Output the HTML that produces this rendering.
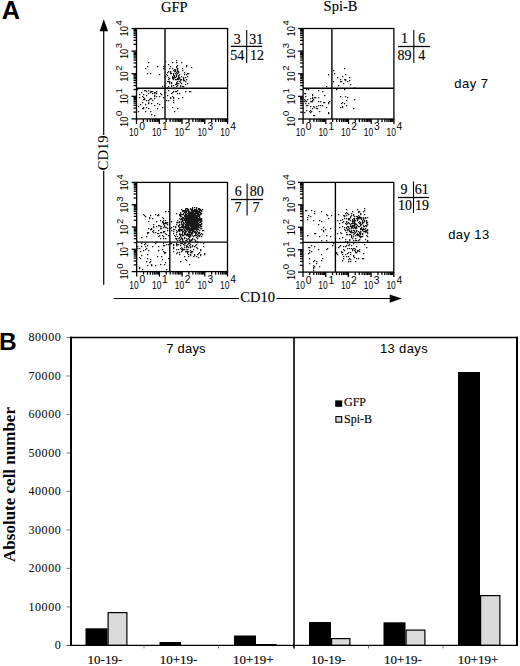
<!DOCTYPE html>
<html><head><meta charset="utf-8"><style>
html,body{margin:0;padding:0;background:#fff;}
svg{display:block;}
</style></head><body>
<svg width="520" height="666" viewBox="0 0 520 666">
<rect width="520" height="666" fill="#fff"/>
<text x="1.80" y="19.30" font-family='"Liberation Sans", sans-serif' font-size="25.3" text-anchor="start" font-weight="bold" >A</text>
<text x="174.25" y="11.50" font-family='"Liberation Serif", serif' font-size="14.5" text-anchor="middle" font-weight="normal" stroke="#000" stroke-width="0.15" >GFP</text>
<text x="340.50" y="11.20" font-family='"Liberation Serif", serif' font-size="14.5" text-anchor="middle" font-weight="normal" stroke="#000" stroke-width="0.15" >Spi-B</text>
<text x="454.30" y="87.50" font-family='"Liberation Sans", sans-serif' font-size="13" text-anchor="start" font-weight="normal" letter-spacing="0.45">day 7</text>
<text x="448.20" y="239.40" font-family='"Liberation Sans", sans-serif' font-size="13" text-anchor="start" font-weight="normal" letter-spacing="0.4">day 13</text>
<line x1="103.70" y1="30.00" x2="103.70" y2="135.00" stroke="#000" stroke-width="1.2"/>
<line x1="103.70" y1="170.80" x2="103.70" y2="284.80" stroke="#000" stroke-width="1.2"/>
<path d="M103.8 19.2 L108.1 31.2 L99.6 31.2 Z" fill="#000"/>
<text transform="translate(108.3,152.85) rotate(-90)" font-family='"Liberation Serif", serif' font-size="14.5" text-anchor="middle">CD19</text>
<line x1="113.80" y1="298.50" x2="239.00" y2="298.50" stroke="#000" stroke-width="1.2"/>
<line x1="276.50" y1="298.50" x2="391.00" y2="298.50" stroke="#000" stroke-width="1.2"/>
<path d="M401.7 298.6 L389.7 294.6 L389.7 302.8 Z" fill="#000"/>
<text x="257.70" y="302.20" font-family='"Liberation Serif", serif' font-size="14.5" text-anchor="middle" font-weight="normal" stroke="#000" stroke-width="0.15" >CD10</text>
<rect x="136.50" y="28.50" width="91.10" height="90.40" fill="none" stroke="#000" stroke-width="1.3"/>
<line x1="165.00" y1="28.50" x2="165.00" y2="118.90" stroke="#000" stroke-width="1.4"/>
<line x1="136.50" y1="88.30" x2="227.60" y2="88.30" stroke="#000" stroke-width="1.4"/>
<line x1="131.50" y1="118.90" x2="136.50" y2="118.90" stroke="#000" stroke-width="1.3"/>
<line x1="136.50" y1="118.90" x2="136.50" y2="123.90" stroke="#000" stroke-width="1.3"/>
<line x1="133.50" y1="112.10" x2="136.50" y2="112.10" stroke="#000" stroke-width="1.3"/>
<line x1="143.36" y1="118.90" x2="143.36" y2="121.90" stroke="#000" stroke-width="1.3"/>
<line x1="133.50" y1="108.12" x2="136.50" y2="108.12" stroke="#000" stroke-width="1.3"/>
<line x1="147.37" y1="118.90" x2="147.37" y2="121.90" stroke="#000" stroke-width="1.3"/>
<line x1="133.50" y1="105.29" x2="136.50" y2="105.29" stroke="#000" stroke-width="1.3"/>
<line x1="150.21" y1="118.90" x2="150.21" y2="121.90" stroke="#000" stroke-width="1.3"/>
<line x1="133.50" y1="103.10" x2="136.50" y2="103.10" stroke="#000" stroke-width="1.3"/>
<line x1="152.42" y1="118.90" x2="152.42" y2="121.90" stroke="#000" stroke-width="1.3"/>
<line x1="133.50" y1="101.31" x2="136.50" y2="101.31" stroke="#000" stroke-width="1.3"/>
<line x1="154.22" y1="118.90" x2="154.22" y2="121.90" stroke="#000" stroke-width="1.3"/>
<line x1="133.50" y1="99.80" x2="136.50" y2="99.80" stroke="#000" stroke-width="1.3"/>
<line x1="155.75" y1="118.90" x2="155.75" y2="121.90" stroke="#000" stroke-width="1.3"/>
<line x1="133.50" y1="98.49" x2="136.50" y2="98.49" stroke="#000" stroke-width="1.3"/>
<line x1="157.07" y1="118.90" x2="157.07" y2="121.90" stroke="#000" stroke-width="1.3"/>
<line x1="133.50" y1="97.33" x2="136.50" y2="97.33" stroke="#000" stroke-width="1.3"/>
<line x1="158.23" y1="118.90" x2="158.23" y2="121.90" stroke="#000" stroke-width="1.3"/>
<line x1="131.50" y1="96.30" x2="136.50" y2="96.30" stroke="#000" stroke-width="1.3"/>
<line x1="159.28" y1="118.90" x2="159.28" y2="123.90" stroke="#000" stroke-width="1.3"/>
<line x1="133.50" y1="89.50" x2="136.50" y2="89.50" stroke="#000" stroke-width="1.3"/>
<line x1="166.13" y1="118.90" x2="166.13" y2="121.90" stroke="#000" stroke-width="1.3"/>
<line x1="133.50" y1="85.52" x2="136.50" y2="85.52" stroke="#000" stroke-width="1.3"/>
<line x1="170.14" y1="118.90" x2="170.14" y2="121.90" stroke="#000" stroke-width="1.3"/>
<line x1="133.50" y1="82.69" x2="136.50" y2="82.69" stroke="#000" stroke-width="1.3"/>
<line x1="172.99" y1="118.90" x2="172.99" y2="121.90" stroke="#000" stroke-width="1.3"/>
<line x1="133.50" y1="80.50" x2="136.50" y2="80.50" stroke="#000" stroke-width="1.3"/>
<line x1="175.19" y1="118.90" x2="175.19" y2="121.90" stroke="#000" stroke-width="1.3"/>
<line x1="133.50" y1="78.71" x2="136.50" y2="78.71" stroke="#000" stroke-width="1.3"/>
<line x1="177.00" y1="118.90" x2="177.00" y2="121.90" stroke="#000" stroke-width="1.3"/>
<line x1="133.50" y1="77.20" x2="136.50" y2="77.20" stroke="#000" stroke-width="1.3"/>
<line x1="178.52" y1="118.90" x2="178.52" y2="121.90" stroke="#000" stroke-width="1.3"/>
<line x1="133.50" y1="75.89" x2="136.50" y2="75.89" stroke="#000" stroke-width="1.3"/>
<line x1="179.84" y1="118.90" x2="179.84" y2="121.90" stroke="#000" stroke-width="1.3"/>
<line x1="133.50" y1="74.73" x2="136.50" y2="74.73" stroke="#000" stroke-width="1.3"/>
<line x1="181.01" y1="118.90" x2="181.01" y2="121.90" stroke="#000" stroke-width="1.3"/>
<line x1="131.50" y1="73.70" x2="136.50" y2="73.70" stroke="#000" stroke-width="1.3"/>
<line x1="182.05" y1="118.90" x2="182.05" y2="123.90" stroke="#000" stroke-width="1.3"/>
<line x1="133.50" y1="66.90" x2="136.50" y2="66.90" stroke="#000" stroke-width="1.3"/>
<line x1="188.91" y1="118.90" x2="188.91" y2="121.90" stroke="#000" stroke-width="1.3"/>
<line x1="133.50" y1="62.92" x2="136.50" y2="62.92" stroke="#000" stroke-width="1.3"/>
<line x1="192.92" y1="118.90" x2="192.92" y2="121.90" stroke="#000" stroke-width="1.3"/>
<line x1="133.50" y1="60.09" x2="136.50" y2="60.09" stroke="#000" stroke-width="1.3"/>
<line x1="195.76" y1="118.90" x2="195.76" y2="121.90" stroke="#000" stroke-width="1.3"/>
<line x1="133.50" y1="57.90" x2="136.50" y2="57.90" stroke="#000" stroke-width="1.3"/>
<line x1="197.97" y1="118.90" x2="197.97" y2="121.90" stroke="#000" stroke-width="1.3"/>
<line x1="133.50" y1="56.11" x2="136.50" y2="56.11" stroke="#000" stroke-width="1.3"/>
<line x1="199.77" y1="118.90" x2="199.77" y2="121.90" stroke="#000" stroke-width="1.3"/>
<line x1="133.50" y1="54.60" x2="136.50" y2="54.60" stroke="#000" stroke-width="1.3"/>
<line x1="201.30" y1="118.90" x2="201.30" y2="121.90" stroke="#000" stroke-width="1.3"/>
<line x1="133.50" y1="53.29" x2="136.50" y2="53.29" stroke="#000" stroke-width="1.3"/>
<line x1="202.62" y1="118.90" x2="202.62" y2="121.90" stroke="#000" stroke-width="1.3"/>
<line x1="133.50" y1="52.13" x2="136.50" y2="52.13" stroke="#000" stroke-width="1.3"/>
<line x1="203.78" y1="118.90" x2="203.78" y2="121.90" stroke="#000" stroke-width="1.3"/>
<line x1="131.50" y1="51.10" x2="136.50" y2="51.10" stroke="#000" stroke-width="1.3"/>
<line x1="204.82" y1="118.90" x2="204.82" y2="123.90" stroke="#000" stroke-width="1.3"/>
<line x1="133.50" y1="44.30" x2="136.50" y2="44.30" stroke="#000" stroke-width="1.3"/>
<line x1="211.68" y1="118.90" x2="211.68" y2="121.90" stroke="#000" stroke-width="1.3"/>
<line x1="133.50" y1="40.32" x2="136.50" y2="40.32" stroke="#000" stroke-width="1.3"/>
<line x1="215.69" y1="118.90" x2="215.69" y2="121.90" stroke="#000" stroke-width="1.3"/>
<line x1="133.50" y1="37.49" x2="136.50" y2="37.49" stroke="#000" stroke-width="1.3"/>
<line x1="218.54" y1="118.90" x2="218.54" y2="121.90" stroke="#000" stroke-width="1.3"/>
<line x1="133.50" y1="35.30" x2="136.50" y2="35.30" stroke="#000" stroke-width="1.3"/>
<line x1="220.74" y1="118.90" x2="220.74" y2="121.90" stroke="#000" stroke-width="1.3"/>
<line x1="133.50" y1="33.51" x2="136.50" y2="33.51" stroke="#000" stroke-width="1.3"/>
<line x1="222.55" y1="118.90" x2="222.55" y2="121.90" stroke="#000" stroke-width="1.3"/>
<line x1="133.50" y1="32.00" x2="136.50" y2="32.00" stroke="#000" stroke-width="1.3"/>
<line x1="224.07" y1="118.90" x2="224.07" y2="121.90" stroke="#000" stroke-width="1.3"/>
<line x1="133.50" y1="30.69" x2="136.50" y2="30.69" stroke="#000" stroke-width="1.3"/>
<line x1="225.39" y1="118.90" x2="225.39" y2="121.90" stroke="#000" stroke-width="1.3"/>
<line x1="133.50" y1="29.53" x2="136.50" y2="29.53" stroke="#000" stroke-width="1.3"/>
<line x1="226.56" y1="118.90" x2="226.56" y2="121.90" stroke="#000" stroke-width="1.3"/>
<line x1="131.50" y1="28.50" x2="136.50" y2="28.50" stroke="#000" stroke-width="1.3"/>
<line x1="227.60" y1="118.90" x2="227.60" y2="123.90" stroke="#000" stroke-width="1.3"/>
<text x="129.10" y="135.90" font-family='"Liberation Sans", sans-serif' font-size="10.5"><tspan textLength="9.4" lengthAdjust="spacingAndGlyphs">10</tspan><tspan dy="-5.6" dx="0.7" font-size="10.3">0</tspan></text>
<text transform="translate(128.00,126.90) rotate(-90)" font-family='"Liberation Sans", sans-serif' font-size="10.5"><tspan textLength="10.3" lengthAdjust="spacingAndGlyphs">10</tspan><tspan dy="-5.6" dx="0.6" font-size="9.5">0</tspan></text>
<text x="151.88" y="135.90" font-family='"Liberation Sans", sans-serif' font-size="10.5"><tspan textLength="9.4" lengthAdjust="spacingAndGlyphs">10</tspan><tspan dy="-5.6" dx="0.7" font-size="10.3">1</tspan></text>
<text transform="translate(128.00,104.30) rotate(-90)" font-family='"Liberation Sans", sans-serif' font-size="10.5"><tspan textLength="10.3" lengthAdjust="spacingAndGlyphs">10</tspan><tspan dy="-5.6" dx="0.6" font-size="9.5">1</tspan></text>
<text x="174.65" y="135.90" font-family='"Liberation Sans", sans-serif' font-size="10.5"><tspan textLength="9.4" lengthAdjust="spacingAndGlyphs">10</tspan><tspan dy="-5.6" dx="0.7" font-size="10.3">2</tspan></text>
<text transform="translate(128.00,81.70) rotate(-90)" font-family='"Liberation Sans", sans-serif' font-size="10.5"><tspan textLength="10.3" lengthAdjust="spacingAndGlyphs">10</tspan><tspan dy="-5.6" dx="0.6" font-size="9.5">2</tspan></text>
<text x="197.42" y="135.90" font-family='"Liberation Sans", sans-serif' font-size="10.5"><tspan textLength="9.4" lengthAdjust="spacingAndGlyphs">10</tspan><tspan dy="-5.6" dx="0.7" font-size="10.3">3</tspan></text>
<text transform="translate(128.00,59.10) rotate(-90)" font-family='"Liberation Sans", sans-serif' font-size="10.5"><tspan textLength="10.3" lengthAdjust="spacingAndGlyphs">10</tspan><tspan dy="-5.6" dx="0.6" font-size="9.5">3</tspan></text>
<text x="220.20" y="135.90" font-family='"Liberation Sans", sans-serif' font-size="10.5"><tspan textLength="9.4" lengthAdjust="spacingAndGlyphs">10</tspan><tspan dy="-5.6" dx="0.7" font-size="10.3">4</tspan></text>
<text transform="translate(128.00,36.50) rotate(-90)" font-family='"Liberation Sans", sans-serif' font-size="10.5"><tspan textLength="10.3" lengthAdjust="spacingAndGlyphs">10</tspan><tspan dy="-5.6" dx="0.6" font-size="9.5">4</tspan></text>
<rect x="303.10" y="28.50" width="90.80" height="90.50" fill="none" stroke="#000" stroke-width="1.3"/>
<line x1="331.90" y1="28.50" x2="331.90" y2="119.00" stroke="#000" stroke-width="1.4"/>
<line x1="303.10" y1="88.30" x2="393.90" y2="88.30" stroke="#000" stroke-width="1.4"/>
<line x1="298.10" y1="119.00" x2="303.10" y2="119.00" stroke="#000" stroke-width="1.3"/>
<line x1="303.10" y1="119.00" x2="303.10" y2="124.00" stroke="#000" stroke-width="1.3"/>
<line x1="300.10" y1="112.19" x2="303.10" y2="112.19" stroke="#000" stroke-width="1.3"/>
<line x1="309.93" y1="119.00" x2="309.93" y2="122.00" stroke="#000" stroke-width="1.3"/>
<line x1="300.10" y1="108.21" x2="303.10" y2="108.21" stroke="#000" stroke-width="1.3"/>
<line x1="313.93" y1="119.00" x2="313.93" y2="122.00" stroke="#000" stroke-width="1.3"/>
<line x1="300.10" y1="105.38" x2="303.10" y2="105.38" stroke="#000" stroke-width="1.3"/>
<line x1="316.77" y1="119.00" x2="316.77" y2="122.00" stroke="#000" stroke-width="1.3"/>
<line x1="300.10" y1="103.19" x2="303.10" y2="103.19" stroke="#000" stroke-width="1.3"/>
<line x1="318.97" y1="119.00" x2="318.97" y2="122.00" stroke="#000" stroke-width="1.3"/>
<line x1="300.10" y1="101.39" x2="303.10" y2="101.39" stroke="#000" stroke-width="1.3"/>
<line x1="320.76" y1="119.00" x2="320.76" y2="122.00" stroke="#000" stroke-width="1.3"/>
<line x1="300.10" y1="99.88" x2="303.10" y2="99.88" stroke="#000" stroke-width="1.3"/>
<line x1="322.28" y1="119.00" x2="322.28" y2="122.00" stroke="#000" stroke-width="1.3"/>
<line x1="300.10" y1="98.57" x2="303.10" y2="98.57" stroke="#000" stroke-width="1.3"/>
<line x1="323.60" y1="119.00" x2="323.60" y2="122.00" stroke="#000" stroke-width="1.3"/>
<line x1="300.10" y1="97.41" x2="303.10" y2="97.41" stroke="#000" stroke-width="1.3"/>
<line x1="324.76" y1="119.00" x2="324.76" y2="122.00" stroke="#000" stroke-width="1.3"/>
<line x1="298.10" y1="96.38" x2="303.10" y2="96.38" stroke="#000" stroke-width="1.3"/>
<line x1="325.80" y1="119.00" x2="325.80" y2="124.00" stroke="#000" stroke-width="1.3"/>
<line x1="300.10" y1="89.56" x2="303.10" y2="89.56" stroke="#000" stroke-width="1.3"/>
<line x1="332.63" y1="119.00" x2="332.63" y2="122.00" stroke="#000" stroke-width="1.3"/>
<line x1="300.10" y1="85.58" x2="303.10" y2="85.58" stroke="#000" stroke-width="1.3"/>
<line x1="336.63" y1="119.00" x2="336.63" y2="122.00" stroke="#000" stroke-width="1.3"/>
<line x1="300.10" y1="82.75" x2="303.10" y2="82.75" stroke="#000" stroke-width="1.3"/>
<line x1="339.47" y1="119.00" x2="339.47" y2="122.00" stroke="#000" stroke-width="1.3"/>
<line x1="300.10" y1="80.56" x2="303.10" y2="80.56" stroke="#000" stroke-width="1.3"/>
<line x1="341.67" y1="119.00" x2="341.67" y2="122.00" stroke="#000" stroke-width="1.3"/>
<line x1="300.10" y1="78.77" x2="303.10" y2="78.77" stroke="#000" stroke-width="1.3"/>
<line x1="343.46" y1="119.00" x2="343.46" y2="122.00" stroke="#000" stroke-width="1.3"/>
<line x1="300.10" y1="77.25" x2="303.10" y2="77.25" stroke="#000" stroke-width="1.3"/>
<line x1="344.98" y1="119.00" x2="344.98" y2="122.00" stroke="#000" stroke-width="1.3"/>
<line x1="300.10" y1="75.94" x2="303.10" y2="75.94" stroke="#000" stroke-width="1.3"/>
<line x1="346.30" y1="119.00" x2="346.30" y2="122.00" stroke="#000" stroke-width="1.3"/>
<line x1="300.10" y1="74.79" x2="303.10" y2="74.79" stroke="#000" stroke-width="1.3"/>
<line x1="347.46" y1="119.00" x2="347.46" y2="122.00" stroke="#000" stroke-width="1.3"/>
<line x1="298.10" y1="73.75" x2="303.10" y2="73.75" stroke="#000" stroke-width="1.3"/>
<line x1="348.50" y1="119.00" x2="348.50" y2="124.00" stroke="#000" stroke-width="1.3"/>
<line x1="300.10" y1="66.94" x2="303.10" y2="66.94" stroke="#000" stroke-width="1.3"/>
<line x1="355.33" y1="119.00" x2="355.33" y2="122.00" stroke="#000" stroke-width="1.3"/>
<line x1="300.10" y1="62.96" x2="303.10" y2="62.96" stroke="#000" stroke-width="1.3"/>
<line x1="359.33" y1="119.00" x2="359.33" y2="122.00" stroke="#000" stroke-width="1.3"/>
<line x1="300.10" y1="60.13" x2="303.10" y2="60.13" stroke="#000" stroke-width="1.3"/>
<line x1="362.17" y1="119.00" x2="362.17" y2="122.00" stroke="#000" stroke-width="1.3"/>
<line x1="300.10" y1="57.94" x2="303.10" y2="57.94" stroke="#000" stroke-width="1.3"/>
<line x1="364.37" y1="119.00" x2="364.37" y2="122.00" stroke="#000" stroke-width="1.3"/>
<line x1="300.10" y1="56.14" x2="303.10" y2="56.14" stroke="#000" stroke-width="1.3"/>
<line x1="366.16" y1="119.00" x2="366.16" y2="122.00" stroke="#000" stroke-width="1.3"/>
<line x1="300.10" y1="54.63" x2="303.10" y2="54.63" stroke="#000" stroke-width="1.3"/>
<line x1="367.68" y1="119.00" x2="367.68" y2="122.00" stroke="#000" stroke-width="1.3"/>
<line x1="300.10" y1="53.32" x2="303.10" y2="53.32" stroke="#000" stroke-width="1.3"/>
<line x1="369.00" y1="119.00" x2="369.00" y2="122.00" stroke="#000" stroke-width="1.3"/>
<line x1="300.10" y1="52.16" x2="303.10" y2="52.16" stroke="#000" stroke-width="1.3"/>
<line x1="370.16" y1="119.00" x2="370.16" y2="122.00" stroke="#000" stroke-width="1.3"/>
<line x1="298.10" y1="51.12" x2="303.10" y2="51.12" stroke="#000" stroke-width="1.3"/>
<line x1="371.20" y1="119.00" x2="371.20" y2="124.00" stroke="#000" stroke-width="1.3"/>
<line x1="300.10" y1="44.31" x2="303.10" y2="44.31" stroke="#000" stroke-width="1.3"/>
<line x1="378.03" y1="119.00" x2="378.03" y2="122.00" stroke="#000" stroke-width="1.3"/>
<line x1="300.10" y1="40.33" x2="303.10" y2="40.33" stroke="#000" stroke-width="1.3"/>
<line x1="382.03" y1="119.00" x2="382.03" y2="122.00" stroke="#000" stroke-width="1.3"/>
<line x1="300.10" y1="37.50" x2="303.10" y2="37.50" stroke="#000" stroke-width="1.3"/>
<line x1="384.87" y1="119.00" x2="384.87" y2="122.00" stroke="#000" stroke-width="1.3"/>
<line x1="300.10" y1="35.31" x2="303.10" y2="35.31" stroke="#000" stroke-width="1.3"/>
<line x1="387.07" y1="119.00" x2="387.07" y2="122.00" stroke="#000" stroke-width="1.3"/>
<line x1="300.10" y1="33.52" x2="303.10" y2="33.52" stroke="#000" stroke-width="1.3"/>
<line x1="388.86" y1="119.00" x2="388.86" y2="122.00" stroke="#000" stroke-width="1.3"/>
<line x1="300.10" y1="32.00" x2="303.10" y2="32.00" stroke="#000" stroke-width="1.3"/>
<line x1="390.38" y1="119.00" x2="390.38" y2="122.00" stroke="#000" stroke-width="1.3"/>
<line x1="300.10" y1="30.69" x2="303.10" y2="30.69" stroke="#000" stroke-width="1.3"/>
<line x1="391.70" y1="119.00" x2="391.70" y2="122.00" stroke="#000" stroke-width="1.3"/>
<line x1="300.10" y1="29.54" x2="303.10" y2="29.54" stroke="#000" stroke-width="1.3"/>
<line x1="392.86" y1="119.00" x2="392.86" y2="122.00" stroke="#000" stroke-width="1.3"/>
<line x1="298.10" y1="28.50" x2="303.10" y2="28.50" stroke="#000" stroke-width="1.3"/>
<line x1="393.90" y1="119.00" x2="393.90" y2="124.00" stroke="#000" stroke-width="1.3"/>
<text x="295.70" y="136.00" font-family='"Liberation Sans", sans-serif' font-size="10.5"><tspan textLength="9.4" lengthAdjust="spacingAndGlyphs">10</tspan><tspan dy="-5.6" dx="0.7" font-size="10.3">0</tspan></text>
<text transform="translate(294.60,127.00) rotate(-90)" font-family='"Liberation Sans", sans-serif' font-size="10.5"><tspan textLength="10.3" lengthAdjust="spacingAndGlyphs">10</tspan><tspan dy="-5.6" dx="0.6" font-size="9.5">0</tspan></text>
<text x="318.40" y="136.00" font-family='"Liberation Sans", sans-serif' font-size="10.5"><tspan textLength="9.4" lengthAdjust="spacingAndGlyphs">10</tspan><tspan dy="-5.6" dx="0.7" font-size="10.3">1</tspan></text>
<text transform="translate(294.60,104.38) rotate(-90)" font-family='"Liberation Sans", sans-serif' font-size="10.5"><tspan textLength="10.3" lengthAdjust="spacingAndGlyphs">10</tspan><tspan dy="-5.6" dx="0.6" font-size="9.5">1</tspan></text>
<text x="341.10" y="136.00" font-family='"Liberation Sans", sans-serif' font-size="10.5"><tspan textLength="9.4" lengthAdjust="spacingAndGlyphs">10</tspan><tspan dy="-5.6" dx="0.7" font-size="10.3">2</tspan></text>
<text transform="translate(294.60,81.75) rotate(-90)" font-family='"Liberation Sans", sans-serif' font-size="10.5"><tspan textLength="10.3" lengthAdjust="spacingAndGlyphs">10</tspan><tspan dy="-5.6" dx="0.6" font-size="9.5">2</tspan></text>
<text x="363.80" y="136.00" font-family='"Liberation Sans", sans-serif' font-size="10.5"><tspan textLength="9.4" lengthAdjust="spacingAndGlyphs">10</tspan><tspan dy="-5.6" dx="0.7" font-size="10.3">3</tspan></text>
<text transform="translate(294.60,59.12) rotate(-90)" font-family='"Liberation Sans", sans-serif' font-size="10.5"><tspan textLength="10.3" lengthAdjust="spacingAndGlyphs">10</tspan><tspan dy="-5.6" dx="0.6" font-size="9.5">3</tspan></text>
<text x="386.50" y="136.00" font-family='"Liberation Sans", sans-serif' font-size="10.5"><tspan textLength="9.4" lengthAdjust="spacingAndGlyphs">10</tspan><tspan dy="-5.6" dx="0.7" font-size="10.3">4</tspan></text>
<text transform="translate(294.60,36.50) rotate(-90)" font-family='"Liberation Sans", sans-serif' font-size="10.5"><tspan textLength="10.3" lengthAdjust="spacingAndGlyphs">10</tspan><tspan dy="-5.6" dx="0.6" font-size="9.5">4</tspan></text>
<rect x="136.70" y="182.40" width="90.80" height="89.20" fill="none" stroke="#000" stroke-width="1.3"/>
<line x1="169.80" y1="182.40" x2="169.80" y2="271.60" stroke="#000" stroke-width="1.4"/>
<line x1="136.70" y1="242.10" x2="227.50" y2="242.10" stroke="#000" stroke-width="1.4"/>
<line x1="131.70" y1="271.60" x2="136.70" y2="271.60" stroke="#000" stroke-width="1.3"/>
<line x1="136.70" y1="271.60" x2="136.70" y2="276.60" stroke="#000" stroke-width="1.3"/>
<line x1="133.70" y1="264.89" x2="136.70" y2="264.89" stroke="#000" stroke-width="1.3"/>
<line x1="143.53" y1="271.60" x2="143.53" y2="274.60" stroke="#000" stroke-width="1.3"/>
<line x1="133.70" y1="260.96" x2="136.70" y2="260.96" stroke="#000" stroke-width="1.3"/>
<line x1="147.53" y1="271.60" x2="147.53" y2="274.60" stroke="#000" stroke-width="1.3"/>
<line x1="133.70" y1="258.17" x2="136.70" y2="258.17" stroke="#000" stroke-width="1.3"/>
<line x1="150.37" y1="271.60" x2="150.37" y2="274.60" stroke="#000" stroke-width="1.3"/>
<line x1="133.70" y1="256.01" x2="136.70" y2="256.01" stroke="#000" stroke-width="1.3"/>
<line x1="152.57" y1="271.60" x2="152.57" y2="274.60" stroke="#000" stroke-width="1.3"/>
<line x1="133.70" y1="254.25" x2="136.70" y2="254.25" stroke="#000" stroke-width="1.3"/>
<line x1="154.36" y1="271.60" x2="154.36" y2="274.60" stroke="#000" stroke-width="1.3"/>
<line x1="133.70" y1="252.75" x2="136.70" y2="252.75" stroke="#000" stroke-width="1.3"/>
<line x1="155.88" y1="271.60" x2="155.88" y2="274.60" stroke="#000" stroke-width="1.3"/>
<line x1="133.70" y1="251.46" x2="136.70" y2="251.46" stroke="#000" stroke-width="1.3"/>
<line x1="157.20" y1="271.60" x2="157.20" y2="274.60" stroke="#000" stroke-width="1.3"/>
<line x1="133.70" y1="250.32" x2="136.70" y2="250.32" stroke="#000" stroke-width="1.3"/>
<line x1="158.36" y1="271.60" x2="158.36" y2="274.60" stroke="#000" stroke-width="1.3"/>
<line x1="131.70" y1="249.30" x2="136.70" y2="249.30" stroke="#000" stroke-width="1.3"/>
<line x1="159.40" y1="271.60" x2="159.40" y2="276.60" stroke="#000" stroke-width="1.3"/>
<line x1="133.70" y1="242.59" x2="136.70" y2="242.59" stroke="#000" stroke-width="1.3"/>
<line x1="166.23" y1="271.60" x2="166.23" y2="274.60" stroke="#000" stroke-width="1.3"/>
<line x1="133.70" y1="238.66" x2="136.70" y2="238.66" stroke="#000" stroke-width="1.3"/>
<line x1="170.23" y1="271.60" x2="170.23" y2="274.60" stroke="#000" stroke-width="1.3"/>
<line x1="133.70" y1="235.87" x2="136.70" y2="235.87" stroke="#000" stroke-width="1.3"/>
<line x1="173.07" y1="271.60" x2="173.07" y2="274.60" stroke="#000" stroke-width="1.3"/>
<line x1="133.70" y1="233.71" x2="136.70" y2="233.71" stroke="#000" stroke-width="1.3"/>
<line x1="175.27" y1="271.60" x2="175.27" y2="274.60" stroke="#000" stroke-width="1.3"/>
<line x1="133.70" y1="231.95" x2="136.70" y2="231.95" stroke="#000" stroke-width="1.3"/>
<line x1="177.06" y1="271.60" x2="177.06" y2="274.60" stroke="#000" stroke-width="1.3"/>
<line x1="133.70" y1="230.45" x2="136.70" y2="230.45" stroke="#000" stroke-width="1.3"/>
<line x1="178.58" y1="271.60" x2="178.58" y2="274.60" stroke="#000" stroke-width="1.3"/>
<line x1="133.70" y1="229.16" x2="136.70" y2="229.16" stroke="#000" stroke-width="1.3"/>
<line x1="179.90" y1="271.60" x2="179.90" y2="274.60" stroke="#000" stroke-width="1.3"/>
<line x1="133.70" y1="228.02" x2="136.70" y2="228.02" stroke="#000" stroke-width="1.3"/>
<line x1="181.06" y1="271.60" x2="181.06" y2="274.60" stroke="#000" stroke-width="1.3"/>
<line x1="131.70" y1="227.00" x2="136.70" y2="227.00" stroke="#000" stroke-width="1.3"/>
<line x1="182.10" y1="271.60" x2="182.10" y2="276.60" stroke="#000" stroke-width="1.3"/>
<line x1="133.70" y1="220.29" x2="136.70" y2="220.29" stroke="#000" stroke-width="1.3"/>
<line x1="188.93" y1="271.60" x2="188.93" y2="274.60" stroke="#000" stroke-width="1.3"/>
<line x1="133.70" y1="216.36" x2="136.70" y2="216.36" stroke="#000" stroke-width="1.3"/>
<line x1="192.93" y1="271.60" x2="192.93" y2="274.60" stroke="#000" stroke-width="1.3"/>
<line x1="133.70" y1="213.57" x2="136.70" y2="213.57" stroke="#000" stroke-width="1.3"/>
<line x1="195.77" y1="271.60" x2="195.77" y2="274.60" stroke="#000" stroke-width="1.3"/>
<line x1="133.70" y1="211.41" x2="136.70" y2="211.41" stroke="#000" stroke-width="1.3"/>
<line x1="197.97" y1="271.60" x2="197.97" y2="274.60" stroke="#000" stroke-width="1.3"/>
<line x1="133.70" y1="209.65" x2="136.70" y2="209.65" stroke="#000" stroke-width="1.3"/>
<line x1="199.76" y1="271.60" x2="199.76" y2="274.60" stroke="#000" stroke-width="1.3"/>
<line x1="133.70" y1="208.15" x2="136.70" y2="208.15" stroke="#000" stroke-width="1.3"/>
<line x1="201.28" y1="271.60" x2="201.28" y2="274.60" stroke="#000" stroke-width="1.3"/>
<line x1="133.70" y1="206.86" x2="136.70" y2="206.86" stroke="#000" stroke-width="1.3"/>
<line x1="202.60" y1="271.60" x2="202.60" y2="274.60" stroke="#000" stroke-width="1.3"/>
<line x1="133.70" y1="205.72" x2="136.70" y2="205.72" stroke="#000" stroke-width="1.3"/>
<line x1="203.76" y1="271.60" x2="203.76" y2="274.60" stroke="#000" stroke-width="1.3"/>
<line x1="131.70" y1="204.70" x2="136.70" y2="204.70" stroke="#000" stroke-width="1.3"/>
<line x1="204.80" y1="271.60" x2="204.80" y2="276.60" stroke="#000" stroke-width="1.3"/>
<line x1="133.70" y1="197.99" x2="136.70" y2="197.99" stroke="#000" stroke-width="1.3"/>
<line x1="211.63" y1="271.60" x2="211.63" y2="274.60" stroke="#000" stroke-width="1.3"/>
<line x1="133.70" y1="194.06" x2="136.70" y2="194.06" stroke="#000" stroke-width="1.3"/>
<line x1="215.63" y1="271.60" x2="215.63" y2="274.60" stroke="#000" stroke-width="1.3"/>
<line x1="133.70" y1="191.27" x2="136.70" y2="191.27" stroke="#000" stroke-width="1.3"/>
<line x1="218.47" y1="271.60" x2="218.47" y2="274.60" stroke="#000" stroke-width="1.3"/>
<line x1="133.70" y1="189.11" x2="136.70" y2="189.11" stroke="#000" stroke-width="1.3"/>
<line x1="220.67" y1="271.60" x2="220.67" y2="274.60" stroke="#000" stroke-width="1.3"/>
<line x1="133.70" y1="187.35" x2="136.70" y2="187.35" stroke="#000" stroke-width="1.3"/>
<line x1="222.46" y1="271.60" x2="222.46" y2="274.60" stroke="#000" stroke-width="1.3"/>
<line x1="133.70" y1="185.85" x2="136.70" y2="185.85" stroke="#000" stroke-width="1.3"/>
<line x1="223.98" y1="271.60" x2="223.98" y2="274.60" stroke="#000" stroke-width="1.3"/>
<line x1="133.70" y1="184.56" x2="136.70" y2="184.56" stroke="#000" stroke-width="1.3"/>
<line x1="225.30" y1="271.60" x2="225.30" y2="274.60" stroke="#000" stroke-width="1.3"/>
<line x1="133.70" y1="183.42" x2="136.70" y2="183.42" stroke="#000" stroke-width="1.3"/>
<line x1="226.46" y1="271.60" x2="226.46" y2="274.60" stroke="#000" stroke-width="1.3"/>
<line x1="131.70" y1="182.40" x2="136.70" y2="182.40" stroke="#000" stroke-width="1.3"/>
<line x1="227.50" y1="271.60" x2="227.50" y2="276.60" stroke="#000" stroke-width="1.3"/>
<text x="129.30" y="288.60" font-family='"Liberation Sans", sans-serif' font-size="10.5"><tspan textLength="9.4" lengthAdjust="spacingAndGlyphs">10</tspan><tspan dy="-5.6" dx="0.7" font-size="10.3">0</tspan></text>
<text transform="translate(128.20,279.60) rotate(-90)" font-family='"Liberation Sans", sans-serif' font-size="10.5"><tspan textLength="10.3" lengthAdjust="spacingAndGlyphs">10</tspan><tspan dy="-5.6" dx="0.6" font-size="9.5">0</tspan></text>
<text x="152.00" y="288.60" font-family='"Liberation Sans", sans-serif' font-size="10.5"><tspan textLength="9.4" lengthAdjust="spacingAndGlyphs">10</tspan><tspan dy="-5.6" dx="0.7" font-size="10.3">1</tspan></text>
<text transform="translate(128.20,257.30) rotate(-90)" font-family='"Liberation Sans", sans-serif' font-size="10.5"><tspan textLength="10.3" lengthAdjust="spacingAndGlyphs">10</tspan><tspan dy="-5.6" dx="0.6" font-size="9.5">1</tspan></text>
<text x="174.70" y="288.60" font-family='"Liberation Sans", sans-serif' font-size="10.5"><tspan textLength="9.4" lengthAdjust="spacingAndGlyphs">10</tspan><tspan dy="-5.6" dx="0.7" font-size="10.3">2</tspan></text>
<text transform="translate(128.20,235.00) rotate(-90)" font-family='"Liberation Sans", sans-serif' font-size="10.5"><tspan textLength="10.3" lengthAdjust="spacingAndGlyphs">10</tspan><tspan dy="-5.6" dx="0.6" font-size="9.5">2</tspan></text>
<text x="197.40" y="288.60" font-family='"Liberation Sans", sans-serif' font-size="10.5"><tspan textLength="9.4" lengthAdjust="spacingAndGlyphs">10</tspan><tspan dy="-5.6" dx="0.7" font-size="10.3">3</tspan></text>
<text transform="translate(128.20,212.70) rotate(-90)" font-family='"Liberation Sans", sans-serif' font-size="10.5"><tspan textLength="10.3" lengthAdjust="spacingAndGlyphs">10</tspan><tspan dy="-5.6" dx="0.6" font-size="9.5">3</tspan></text>
<text x="220.10" y="288.60" font-family='"Liberation Sans", sans-serif' font-size="10.5"><tspan textLength="9.4" lengthAdjust="spacingAndGlyphs">10</tspan><tspan dy="-5.6" dx="0.7" font-size="10.3">4</tspan></text>
<text transform="translate(128.20,190.40) rotate(-90)" font-family='"Liberation Sans", sans-serif' font-size="10.5"><tspan textLength="10.3" lengthAdjust="spacingAndGlyphs">10</tspan><tspan dy="-5.6" dx="0.6" font-size="9.5">4</tspan></text>
<rect x="303.00" y="182.40" width="90.80" height="89.70" fill="none" stroke="#000" stroke-width="1.3"/>
<line x1="335.40" y1="182.40" x2="335.40" y2="272.10" stroke="#000" stroke-width="1.4"/>
<line x1="303.00" y1="242.40" x2="393.80" y2="242.40" stroke="#000" stroke-width="1.4"/>
<line x1="298.00" y1="272.10" x2="303.00" y2="272.10" stroke="#000" stroke-width="1.3"/>
<line x1="303.00" y1="272.10" x2="303.00" y2="277.10" stroke="#000" stroke-width="1.3"/>
<line x1="300.00" y1="265.35" x2="303.00" y2="265.35" stroke="#000" stroke-width="1.3"/>
<line x1="309.83" y1="272.10" x2="309.83" y2="275.10" stroke="#000" stroke-width="1.3"/>
<line x1="300.00" y1="261.40" x2="303.00" y2="261.40" stroke="#000" stroke-width="1.3"/>
<line x1="313.83" y1="272.10" x2="313.83" y2="275.10" stroke="#000" stroke-width="1.3"/>
<line x1="300.00" y1="258.60" x2="303.00" y2="258.60" stroke="#000" stroke-width="1.3"/>
<line x1="316.67" y1="272.10" x2="316.67" y2="275.10" stroke="#000" stroke-width="1.3"/>
<line x1="300.00" y1="256.43" x2="303.00" y2="256.43" stroke="#000" stroke-width="1.3"/>
<line x1="318.87" y1="272.10" x2="318.87" y2="275.10" stroke="#000" stroke-width="1.3"/>
<line x1="300.00" y1="254.65" x2="303.00" y2="254.65" stroke="#000" stroke-width="1.3"/>
<line x1="320.66" y1="272.10" x2="320.66" y2="275.10" stroke="#000" stroke-width="1.3"/>
<line x1="300.00" y1="253.15" x2="303.00" y2="253.15" stroke="#000" stroke-width="1.3"/>
<line x1="322.18" y1="272.10" x2="322.18" y2="275.10" stroke="#000" stroke-width="1.3"/>
<line x1="300.00" y1="251.85" x2="303.00" y2="251.85" stroke="#000" stroke-width="1.3"/>
<line x1="323.50" y1="272.10" x2="323.50" y2="275.10" stroke="#000" stroke-width="1.3"/>
<line x1="300.00" y1="250.70" x2="303.00" y2="250.70" stroke="#000" stroke-width="1.3"/>
<line x1="324.66" y1="272.10" x2="324.66" y2="275.10" stroke="#000" stroke-width="1.3"/>
<line x1="298.00" y1="249.68" x2="303.00" y2="249.68" stroke="#000" stroke-width="1.3"/>
<line x1="325.70" y1="272.10" x2="325.70" y2="277.10" stroke="#000" stroke-width="1.3"/>
<line x1="300.00" y1="242.92" x2="303.00" y2="242.92" stroke="#000" stroke-width="1.3"/>
<line x1="332.53" y1="272.10" x2="332.53" y2="275.10" stroke="#000" stroke-width="1.3"/>
<line x1="300.00" y1="238.98" x2="303.00" y2="238.98" stroke="#000" stroke-width="1.3"/>
<line x1="336.53" y1="272.10" x2="336.53" y2="275.10" stroke="#000" stroke-width="1.3"/>
<line x1="300.00" y1="236.17" x2="303.00" y2="236.17" stroke="#000" stroke-width="1.3"/>
<line x1="339.37" y1="272.10" x2="339.37" y2="275.10" stroke="#000" stroke-width="1.3"/>
<line x1="300.00" y1="234.00" x2="303.00" y2="234.00" stroke="#000" stroke-width="1.3"/>
<line x1="341.57" y1="272.10" x2="341.57" y2="275.10" stroke="#000" stroke-width="1.3"/>
<line x1="300.00" y1="232.22" x2="303.00" y2="232.22" stroke="#000" stroke-width="1.3"/>
<line x1="343.36" y1="272.10" x2="343.36" y2="275.10" stroke="#000" stroke-width="1.3"/>
<line x1="300.00" y1="230.72" x2="303.00" y2="230.72" stroke="#000" stroke-width="1.3"/>
<line x1="344.88" y1="272.10" x2="344.88" y2="275.10" stroke="#000" stroke-width="1.3"/>
<line x1="300.00" y1="229.42" x2="303.00" y2="229.42" stroke="#000" stroke-width="1.3"/>
<line x1="346.20" y1="272.10" x2="346.20" y2="275.10" stroke="#000" stroke-width="1.3"/>
<line x1="300.00" y1="228.28" x2="303.00" y2="228.28" stroke="#000" stroke-width="1.3"/>
<line x1="347.36" y1="272.10" x2="347.36" y2="275.10" stroke="#000" stroke-width="1.3"/>
<line x1="298.00" y1="227.25" x2="303.00" y2="227.25" stroke="#000" stroke-width="1.3"/>
<line x1="348.40" y1="272.10" x2="348.40" y2="277.10" stroke="#000" stroke-width="1.3"/>
<line x1="300.00" y1="220.50" x2="303.00" y2="220.50" stroke="#000" stroke-width="1.3"/>
<line x1="355.23" y1="272.10" x2="355.23" y2="275.10" stroke="#000" stroke-width="1.3"/>
<line x1="300.00" y1="216.55" x2="303.00" y2="216.55" stroke="#000" stroke-width="1.3"/>
<line x1="359.23" y1="272.10" x2="359.23" y2="275.10" stroke="#000" stroke-width="1.3"/>
<line x1="300.00" y1="213.75" x2="303.00" y2="213.75" stroke="#000" stroke-width="1.3"/>
<line x1="362.07" y1="272.10" x2="362.07" y2="275.10" stroke="#000" stroke-width="1.3"/>
<line x1="300.00" y1="211.58" x2="303.00" y2="211.58" stroke="#000" stroke-width="1.3"/>
<line x1="364.27" y1="272.10" x2="364.27" y2="275.10" stroke="#000" stroke-width="1.3"/>
<line x1="300.00" y1="209.80" x2="303.00" y2="209.80" stroke="#000" stroke-width="1.3"/>
<line x1="366.06" y1="272.10" x2="366.06" y2="275.10" stroke="#000" stroke-width="1.3"/>
<line x1="300.00" y1="208.30" x2="303.00" y2="208.30" stroke="#000" stroke-width="1.3"/>
<line x1="367.58" y1="272.10" x2="367.58" y2="275.10" stroke="#000" stroke-width="1.3"/>
<line x1="300.00" y1="207.00" x2="303.00" y2="207.00" stroke="#000" stroke-width="1.3"/>
<line x1="368.90" y1="272.10" x2="368.90" y2="275.10" stroke="#000" stroke-width="1.3"/>
<line x1="300.00" y1="205.85" x2="303.00" y2="205.85" stroke="#000" stroke-width="1.3"/>
<line x1="370.06" y1="272.10" x2="370.06" y2="275.10" stroke="#000" stroke-width="1.3"/>
<line x1="298.00" y1="204.83" x2="303.00" y2="204.83" stroke="#000" stroke-width="1.3"/>
<line x1="371.10" y1="272.10" x2="371.10" y2="277.10" stroke="#000" stroke-width="1.3"/>
<line x1="300.00" y1="198.07" x2="303.00" y2="198.07" stroke="#000" stroke-width="1.3"/>
<line x1="377.93" y1="272.10" x2="377.93" y2="275.10" stroke="#000" stroke-width="1.3"/>
<line x1="300.00" y1="194.13" x2="303.00" y2="194.13" stroke="#000" stroke-width="1.3"/>
<line x1="381.93" y1="272.10" x2="381.93" y2="275.10" stroke="#000" stroke-width="1.3"/>
<line x1="300.00" y1="191.32" x2="303.00" y2="191.32" stroke="#000" stroke-width="1.3"/>
<line x1="384.77" y1="272.10" x2="384.77" y2="275.10" stroke="#000" stroke-width="1.3"/>
<line x1="300.00" y1="189.15" x2="303.00" y2="189.15" stroke="#000" stroke-width="1.3"/>
<line x1="386.97" y1="272.10" x2="386.97" y2="275.10" stroke="#000" stroke-width="1.3"/>
<line x1="300.00" y1="187.37" x2="303.00" y2="187.37" stroke="#000" stroke-width="1.3"/>
<line x1="388.76" y1="272.10" x2="388.76" y2="275.10" stroke="#000" stroke-width="1.3"/>
<line x1="300.00" y1="185.87" x2="303.00" y2="185.87" stroke="#000" stroke-width="1.3"/>
<line x1="390.28" y1="272.10" x2="390.28" y2="275.10" stroke="#000" stroke-width="1.3"/>
<line x1="300.00" y1="184.57" x2="303.00" y2="184.57" stroke="#000" stroke-width="1.3"/>
<line x1="391.60" y1="272.10" x2="391.60" y2="275.10" stroke="#000" stroke-width="1.3"/>
<line x1="300.00" y1="183.43" x2="303.00" y2="183.43" stroke="#000" stroke-width="1.3"/>
<line x1="392.76" y1="272.10" x2="392.76" y2="275.10" stroke="#000" stroke-width="1.3"/>
<line x1="298.00" y1="182.40" x2="303.00" y2="182.40" stroke="#000" stroke-width="1.3"/>
<line x1="393.80" y1="272.10" x2="393.80" y2="277.10" stroke="#000" stroke-width="1.3"/>
<text x="295.60" y="289.10" font-family='"Liberation Sans", sans-serif' font-size="10.5"><tspan textLength="9.4" lengthAdjust="spacingAndGlyphs">10</tspan><tspan dy="-5.6" dx="0.7" font-size="10.3">0</tspan></text>
<text transform="translate(294.50,280.10) rotate(-90)" font-family='"Liberation Sans", sans-serif' font-size="10.5"><tspan textLength="10.3" lengthAdjust="spacingAndGlyphs">10</tspan><tspan dy="-5.6" dx="0.6" font-size="9.5">0</tspan></text>
<text x="318.30" y="289.10" font-family='"Liberation Sans", sans-serif' font-size="10.5"><tspan textLength="9.4" lengthAdjust="spacingAndGlyphs">10</tspan><tspan dy="-5.6" dx="0.7" font-size="10.3">1</tspan></text>
<text transform="translate(294.50,257.68) rotate(-90)" font-family='"Liberation Sans", sans-serif' font-size="10.5"><tspan textLength="10.3" lengthAdjust="spacingAndGlyphs">10</tspan><tspan dy="-5.6" dx="0.6" font-size="9.5">1</tspan></text>
<text x="341.00" y="289.10" font-family='"Liberation Sans", sans-serif' font-size="10.5"><tspan textLength="9.4" lengthAdjust="spacingAndGlyphs">10</tspan><tspan dy="-5.6" dx="0.7" font-size="10.3">2</tspan></text>
<text transform="translate(294.50,235.25) rotate(-90)" font-family='"Liberation Sans", sans-serif' font-size="10.5"><tspan textLength="10.3" lengthAdjust="spacingAndGlyphs">10</tspan><tspan dy="-5.6" dx="0.6" font-size="9.5">2</tspan></text>
<text x="363.70" y="289.10" font-family='"Liberation Sans", sans-serif' font-size="10.5"><tspan textLength="9.4" lengthAdjust="spacingAndGlyphs">10</tspan><tspan dy="-5.6" dx="0.7" font-size="10.3">3</tspan></text>
<text transform="translate(294.50,212.83) rotate(-90)" font-family='"Liberation Sans", sans-serif' font-size="10.5"><tspan textLength="10.3" lengthAdjust="spacingAndGlyphs">10</tspan><tspan dy="-5.6" dx="0.6" font-size="9.5">3</tspan></text>
<text x="386.40" y="289.10" font-family='"Liberation Sans", sans-serif' font-size="10.5"><tspan textLength="9.4" lengthAdjust="spacingAndGlyphs">10</tspan><tspan dy="-5.6" dx="0.7" font-size="10.3">4</tspan></text>
<text transform="translate(294.50,190.40) rotate(-90)" font-family='"Liberation Sans", sans-serif' font-size="10.5"><tspan textLength="10.3" lengthAdjust="spacingAndGlyphs">10</tspan><tspan dy="-5.6" dx="0.6" font-size="9.5">4</tspan></text>
<path d="M177 81h1.3v1.3h-1.3zM175 71h1.3v1.3h-1.3zM173 70h1.3v1.3h-1.3zM177 90h1.3v1.3h-1.3zM173 73h1.3v1.3h-1.3zM180 82h1.3v1.3h-1.3zM177 71h1.3v1.3h-1.3zM176 84h1.3v1.3h-1.3zM167 75h1.3v1.3h-1.3zM163 68h1.3v1.3h-1.3zM164 77h1.3v1.3h-1.3zM168 81h1.3v1.3h-1.3zM178 77h1.3v1.3h-1.3zM159 74h1.3v1.3h-1.3zM176 79h1.3v1.3h-1.3zM166 74h1.3v1.3h-1.3zM170 72h1.3v1.3h-1.3zM184 72h1.3v1.3h-1.3zM176 86h1.3v1.3h-1.3zM172 78h1.3v1.3h-1.3zM177 79h1.3v1.3h-1.3zM168 79h1.3v1.3h-1.3zM186 65h1.3v1.3h-1.3zM183 80h1.3v1.3h-1.3zM172 96h1.3v1.3h-1.3zM182 68h1.3v1.3h-1.3zM177 83h1.3v1.3h-1.3zM175 84h1.3v1.3h-1.3zM187 73h1.3v1.3h-1.3zM178 75h1.3v1.3h-1.3zM177 68h1.3v1.3h-1.3zM172 77h1.3v1.3h-1.3zM183 88h1.3v1.3h-1.3zM167 72h1.3v1.3h-1.3zM181 62h1.3v1.3h-1.3zM173 78h1.3v1.3h-1.3zM185 84h1.3v1.3h-1.3zM174 75h1.3v1.3h-1.3zM175 91h1.3v1.3h-1.3zM174 76h1.3v1.3h-1.3zM179 77h1.3v1.3h-1.3zM175 69h1.3v1.3h-1.3zM176 75h1.3v1.3h-1.3zM174 87h1.3v1.3h-1.3zM176 83h1.3v1.3h-1.3zM167 81h1.3v1.3h-1.3zM165 61h1.3v1.3h-1.3zM174 71h1.3v1.3h-1.3zM178 98h1.3v1.3h-1.3zM171 73h1.3v1.3h-1.3zM178 83h1.3v1.3h-1.3zM175 77h1.3v1.3h-1.3zM181 83h1.3v1.3h-1.3zM169 78h1.3v1.3h-1.3zM177 70h1.3v1.3h-1.3zM178 71h1.3v1.3h-1.3zM177 73h1.3v1.3h-1.3zM176 62h1.3v1.3h-1.3zM169 82h1.3v1.3h-1.3zM162 86h1.3v1.3h-1.3zM164 85h1.3v1.3h-1.3zM171 85h1.3v1.3h-1.3zM177 65h1.3v1.3h-1.3zM185 91h1.3v1.3h-1.3zM176 76h1.3v1.3h-1.3zM175 70h1.3v1.3h-1.3zM184 74h1.3v1.3h-1.3zM176 72h1.3v1.3h-1.3zM172 68h1.3v1.3h-1.3zM185 77h1.3v1.3h-1.3zM183 79h1.3v1.3h-1.3zM172 76h1.3v1.3h-1.3zM173 79h1.3v1.3h-1.3zM188 73h1.3v1.3h-1.3zM169 81h1.3v1.3h-1.3zM186 66h1.3v1.3h-1.3zM175 73h1.3v1.3h-1.3zM171 82h1.3v1.3h-1.3zM173 77h1.3v1.3h-1.3zM169 68h1.3v1.3h-1.3zM186 74h1.3v1.3h-1.3zM179 78h1.3v1.3h-1.3zM173 74h1.3v1.3h-1.3zM181 76h1.3v1.3h-1.3zM175 79h1.3v1.3h-1.3zM179 74h1.3v1.3h-1.3zM167 87h1.3v1.3h-1.3zM183 77h1.3v1.3h-1.3zM180 85h1.3v1.3h-1.3zM182 86h1.3v1.3h-1.3zM173 91h1.3v1.3h-1.3zM168 86h1.3v1.3h-1.3zM180 86h1.3v1.3h-1.3zM190 91h1.3v1.3h-1.3zM168 64h1.3v1.3h-1.3zM182 70h1.3v1.3h-1.3zM178 79h1.3v1.3h-1.3zM170 66h1.3v1.3h-1.3zM165 83h1.3v1.3h-1.3zM176 82h1.3v1.3h-1.3zM170 73h1.3v1.3h-1.3zM170 71h1.3v1.3h-1.3zM178 72h1.3v1.3h-1.3zM179 81h1.3v1.3h-1.3zM191 67h1.3v1.3h-1.3zM183 78h1.3v1.3h-1.3zM176 66h1.3v1.3h-1.3zM173 85h1.3v1.3h-1.3zM174 88h1.3v1.3h-1.3zM176 60h1.3v1.3h-1.3zM172 62h1.3v1.3h-1.3zM186 79h1.3v1.3h-1.3zM168 71h1.3v1.3h-1.3zM184 80h1.3v1.3h-1.3zM177 78h1.3v1.3h-1.3zM177 85h1.3v1.3h-1.3zM180 80h1.3v1.3h-1.3zM169 83h1.3v1.3h-1.3zM172 88h1.3v1.3h-1.3zM168 77h1.3v1.3h-1.3zM176 67h1.3v1.3h-1.3zM189 91h1.3v1.3h-1.3zM178 78h1.3v1.3h-1.3zM177 69h1.3v1.3h-1.3zM185 81h1.3v1.3h-1.3zM176 91h1.3v1.3h-1.3zM173 75h1.3v1.3h-1.3zM164 92h1.3v1.3h-1.3zM183 86h1.3v1.3h-1.3zM181 79h1.3v1.3h-1.3zM178 76h1.3v1.3h-1.3zM187 83h1.3v1.3h-1.3zM176 74h1.3v1.3h-1.3zM172 92h1.3v1.3h-1.3zM180 79h1.3v1.3h-1.3zM174 69h1.3v1.3h-1.3zM174 77h1.3v1.3h-1.3zM165 76h1.3v1.3h-1.3zM171 86h1.3v1.3h-1.3zM171 83h1.3v1.3h-1.3zM187 76h1.3v1.3h-1.3zM168 100h1.3v1.3h-1.3zM171 93h1.3v1.3h-1.3zM174 111h1.3v1.3h-1.3zM170 97h1.3v1.3h-1.3zM166 100h1.3v1.3h-1.3zM165 92h1.3v1.3h-1.3zM179 93h1.3v1.3h-1.3zM177 108h1.3v1.3h-1.3zM173 102h1.3v1.3h-1.3zM182 97h1.3v1.3h-1.3zM168 90h1.3v1.3h-1.3zM172 107h1.3v1.3h-1.3zM177 93h1.3v1.3h-1.3zM167 95h1.3v1.3h-1.3zM173 97h1.3v1.3h-1.3zM173 100h1.3v1.3h-1.3zM170 98h1.3v1.3h-1.3zM173 98h1.3v1.3h-1.3zM151 114h1.3v1.3h-1.3zM152 100h1.3v1.3h-1.3zM154 105h1.3v1.3h-1.3zM143 94h1.3v1.3h-1.3zM148 93h1.3v1.3h-1.3zM145 90h1.3v1.3h-1.3zM148 90h1.3v1.3h-1.3zM157 108h1.3v1.3h-1.3zM156 96h1.3v1.3h-1.3zM151 98h1.3v1.3h-1.3zM143 97h1.3v1.3h-1.3zM154 98h1.3v1.3h-1.3zM148 108h1.3v1.3h-1.3zM148 103h1.3v1.3h-1.3zM143 108h1.3v1.3h-1.3zM138 106h1.3v1.3h-1.3zM159 104h1.3v1.3h-1.3zM159 96h1.3v1.3h-1.3zM144 90h1.3v1.3h-1.3zM161 94h1.3v1.3h-1.3zM143 107h1.3v1.3h-1.3zM150 91h1.3v1.3h-1.3zM142 96h1.3v1.3h-1.3zM146 95h1.3v1.3h-1.3zM139 97h1.3v1.3h-1.3zM137 89h1.3v1.3h-1.3zM146 107h1.3v1.3h-1.3zM141 92h1.3v1.3h-1.3zM154 95h1.3v1.3h-1.3zM160 93h1.3v1.3h-1.3zM150 98h1.3v1.3h-1.3zM140 104h1.3v1.3h-1.3zM145 104h1.3v1.3h-1.3zM146 91h1.3v1.3h-1.3zM146 100h1.3v1.3h-1.3zM155 92h1.3v1.3h-1.3zM152 91h1.3v1.3h-1.3zM139 94h1.3v1.3h-1.3zM152 93h1.3v1.3h-1.3zM150 92h1.3v1.3h-1.3zM163 97h1.3v1.3h-1.3zM149 99h1.3v1.3h-1.3zM148 100h1.3v1.3h-1.3zM154 92h1.3v1.3h-1.3zM151 91h1.3v1.3h-1.3zM156 91h1.3v1.3h-1.3zM138 111h1.3v1.3h-1.3zM154 96h1.3v1.3h-1.3zM143 99h1.3v1.3h-1.3zM154 93h1.3v1.3h-1.3zM144 98h1.3v1.3h-1.3zM150 111h1.3v1.3h-1.3zM151 103h1.3v1.3h-1.3zM154 115h1.3v1.3h-1.3zM142 108h1.3v1.3h-1.3zM162 107h1.3v1.3h-1.3zM145 111h1.3v1.3h-1.3zM144 99h1.3v1.3h-1.3zM148 102h1.3v1.3h-1.3zM157 103h1.3v1.3h-1.3zM156 93h1.3v1.3h-1.3zM142 102h1.3v1.3h-1.3zM157 66h1.3v1.3h-1.3zM147 66h1.3v1.3h-1.3zM147 73h1.3v1.3h-1.3zM148 62h1.3v1.3h-1.3zM150 73h1.3v1.3h-1.3zM163 66h1.3v1.3h-1.3zM145 68h1.3v1.3h-1.3z" fill="#1a1a1a"/>
<path d="M340 81h1.3v1.3h-1.3zM344 79h1.3v1.3h-1.3zM345 74h1.3v1.3h-1.3zM341 81h1.3v1.3h-1.3zM345 79h1.3v1.3h-1.3zM333 81h1.3v1.3h-1.3zM350 84h1.3v1.3h-1.3zM344 68h1.3v1.3h-1.3zM349 77h1.3v1.3h-1.3zM333 70h1.3v1.3h-1.3zM338 85h1.3v1.3h-1.3zM340 79h1.3v1.3h-1.3zM354 87h1.3v1.3h-1.3zM342 76h1.3v1.3h-1.3zM334 73h1.3v1.3h-1.3zM345 80h1.3v1.3h-1.3zM343 83h1.3v1.3h-1.3zM337 77h1.3v1.3h-1.3zM347 81h1.3v1.3h-1.3zM349 80h1.3v1.3h-1.3zM341 103h1.3v1.3h-1.3zM336 89h1.3v1.3h-1.3zM346 100h1.3v1.3h-1.3zM344 89h1.3v1.3h-1.3zM340 96h1.3v1.3h-1.3zM340 107h1.3v1.3h-1.3zM345 96h1.3v1.3h-1.3zM342 106h1.3v1.3h-1.3zM346 105h1.3v1.3h-1.3zM353 108h1.3v1.3h-1.3zM344 103h1.3v1.3h-1.3zM347 97h1.3v1.3h-1.3zM342 107h1.3v1.3h-1.3zM354 99h1.3v1.3h-1.3zM342 102h1.3v1.3h-1.3zM323 102h1.3v1.3h-1.3zM324 95h1.3v1.3h-1.3zM311 101h1.3v1.3h-1.3zM319 111h1.3v1.3h-1.3zM315 97h1.3v1.3h-1.3zM316 106h1.3v1.3h-1.3zM309 111h1.3v1.3h-1.3zM311 111h1.3v1.3h-1.3zM305 96h1.3v1.3h-1.3zM314 97h1.3v1.3h-1.3zM318 105h1.3v1.3h-1.3zM305 103h1.3v1.3h-1.3zM310 110h1.3v1.3h-1.3zM307 99h1.3v1.3h-1.3zM328 103h1.3v1.3h-1.3zM314 115h1.3v1.3h-1.3zM312 95h1.3v1.3h-1.3zM313 106h1.3v1.3h-1.3zM306 89h1.3v1.3h-1.3zM306 101h1.3v1.3h-1.3zM314 107h1.3v1.3h-1.3zM310 106h1.3v1.3h-1.3zM305 100h1.3v1.3h-1.3zM304 112h1.3v1.3h-1.3zM312 97h1.3v1.3h-1.3zM310 101h1.3v1.3h-1.3zM318 90h1.3v1.3h-1.3zM304 99h1.3v1.3h-1.3zM312 108h1.3v1.3h-1.3zM329 101h1.3v1.3h-1.3zM310 112h1.3v1.3h-1.3zM316 108h1.3v1.3h-1.3zM326 107h1.3v1.3h-1.3zM318 101h1.3v1.3h-1.3zM310 98h1.3v1.3h-1.3zM322 105h1.3v1.3h-1.3zM305 93h1.3v1.3h-1.3zM308 103h1.3v1.3h-1.3zM312 100h1.3v1.3h-1.3zM312 98h1.3v1.3h-1.3zM308 89h1.3v1.3h-1.3zM328 113h1.3v1.3h-1.3zM318 97h1.3v1.3h-1.3zM324 102h1.3v1.3h-1.3zM313 99h1.3v1.3h-1.3zM312 94h1.3v1.3h-1.3zM312 101h1.3v1.3h-1.3zM317 108h1.3v1.3h-1.3zM304 101h1.3v1.3h-1.3zM320 105h1.3v1.3h-1.3zM313 115h1.3v1.3h-1.3zM322 91h1.3v1.3h-1.3zM307 105h1.3v1.3h-1.3zM328 102h1.3v1.3h-1.3zM306 105h1.3v1.3h-1.3zM306 110h1.3v1.3h-1.3zM304 93h1.3v1.3h-1.3zM328 112h1.3v1.3h-1.3zM320 101h1.3v1.3h-1.3zM326 86h1.3v1.3h-1.3zM328 74h1.3v1.3h-1.3z" fill="#1a1a1a"/>
<path d="M185 214h1.3v1.3h-1.3zM188 211h1.3v1.3h-1.3zM194 215h1.3v1.3h-1.3zM183 223h1.3v1.3h-1.3zM191 221h1.3v1.3h-1.3zM193 222h1.3v1.3h-1.3zM192 226h1.3v1.3h-1.3zM194 221h1.3v1.3h-1.3zM194 210h1.3v1.3h-1.3zM191 217h1.3v1.3h-1.3zM193 210h1.3v1.3h-1.3zM200 219h1.3v1.3h-1.3zM186 208h1.3v1.3h-1.3zM191 218h1.3v1.3h-1.3zM189 219h1.3v1.3h-1.3zM189 222h1.3v1.3h-1.3zM189 218h1.3v1.3h-1.3zM197 234h1.3v1.3h-1.3zM187 216h1.3v1.3h-1.3zM188 223h1.3v1.3h-1.3zM186 216h1.3v1.3h-1.3zM192 213h1.3v1.3h-1.3zM182 210h1.3v1.3h-1.3zM190 219h1.3v1.3h-1.3zM190 223h1.3v1.3h-1.3zM195 218h1.3v1.3h-1.3zM188 222h1.3v1.3h-1.3zM189 211h1.3v1.3h-1.3zM188 227h1.3v1.3h-1.3zM193 225h1.3v1.3h-1.3zM190 224h1.3v1.3h-1.3zM190 218h1.3v1.3h-1.3zM194 226h1.3v1.3h-1.3zM190 208h1.3v1.3h-1.3zM191 219h1.3v1.3h-1.3zM193 226h1.3v1.3h-1.3zM194 223h1.3v1.3h-1.3zM187 224h1.3v1.3h-1.3zM193 219h1.3v1.3h-1.3zM201 213h1.3v1.3h-1.3zM196 216h1.3v1.3h-1.3zM193 217h1.3v1.3h-1.3zM193 218h1.3v1.3h-1.3zM187 218h1.3v1.3h-1.3zM196 213h1.3v1.3h-1.3zM191 222h1.3v1.3h-1.3zM187 220h1.3v1.3h-1.3zM187 225h1.3v1.3h-1.3zM191 223h1.3v1.3h-1.3zM199 211h1.3v1.3h-1.3zM197 218h1.3v1.3h-1.3zM199 220h1.3v1.3h-1.3zM189 220h1.3v1.3h-1.3zM196 219h1.3v1.3h-1.3zM182 224h1.3v1.3h-1.3zM195 219h1.3v1.3h-1.3zM192 225h1.3v1.3h-1.3zM190 214h1.3v1.3h-1.3zM191 226h1.3v1.3h-1.3zM185 226h1.3v1.3h-1.3zM189 212h1.3v1.3h-1.3zM198 218h1.3v1.3h-1.3zM196 226h1.3v1.3h-1.3zM190 221h1.3v1.3h-1.3zM195 215h1.3v1.3h-1.3zM194 218h1.3v1.3h-1.3zM189 216h1.3v1.3h-1.3zM192 219h1.3v1.3h-1.3zM197 220h1.3v1.3h-1.3zM195 232h1.3v1.3h-1.3zM190 230h1.3v1.3h-1.3zM187 222h1.3v1.3h-1.3zM196 223h1.3v1.3h-1.3zM192 221h1.3v1.3h-1.3zM195 212h1.3v1.3h-1.3zM197 217h1.3v1.3h-1.3zM188 221h1.3v1.3h-1.3zM188 213h1.3v1.3h-1.3zM184 218h1.3v1.3h-1.3zM194 225h1.3v1.3h-1.3zM191 225h1.3v1.3h-1.3zM192 218h1.3v1.3h-1.3zM195 225h1.3v1.3h-1.3zM190 217h1.3v1.3h-1.3zM188 225h1.3v1.3h-1.3zM194 216h1.3v1.3h-1.3zM201 224h1.3v1.3h-1.3zM194 219h1.3v1.3h-1.3zM192 217h1.3v1.3h-1.3zM183 217h1.3v1.3h-1.3zM181 221h1.3v1.3h-1.3zM189 214h1.3v1.3h-1.3zM191 220h1.3v1.3h-1.3zM185 208h1.3v1.3h-1.3zM187 228h1.3v1.3h-1.3zM185 220h1.3v1.3h-1.3zM195 229h1.3v1.3h-1.3zM192 229h1.3v1.3h-1.3zM182 217h1.3v1.3h-1.3zM188 217h1.3v1.3h-1.3zM185 219h1.3v1.3h-1.3zM187 213h1.3v1.3h-1.3zM190 225h1.3v1.3h-1.3zM188 214h1.3v1.3h-1.3zM196 224h1.3v1.3h-1.3zM190 212h1.3v1.3h-1.3zM181 223h1.3v1.3h-1.3zM189 221h1.3v1.3h-1.3zM201 226h1.3v1.3h-1.3zM186 224h1.3v1.3h-1.3zM198 214h1.3v1.3h-1.3zM184 227h1.3v1.3h-1.3zM180 212h1.3v1.3h-1.3zM193 220h1.3v1.3h-1.3zM182 218h1.3v1.3h-1.3zM193 213h1.3v1.3h-1.3zM189 223h1.3v1.3h-1.3zM194 214h1.3v1.3h-1.3zM189 217h1.3v1.3h-1.3zM190 216h1.3v1.3h-1.3zM186 218h1.3v1.3h-1.3zM197 221h1.3v1.3h-1.3zM187 227h1.3v1.3h-1.3zM192 214h1.3v1.3h-1.3zM193 214h1.3v1.3h-1.3zM197 214h1.3v1.3h-1.3zM181 214h1.3v1.3h-1.3zM197 222h1.3v1.3h-1.3zM186 214h1.3v1.3h-1.3zM201 220h1.3v1.3h-1.3zM193 221h1.3v1.3h-1.3zM187 219h1.3v1.3h-1.3zM192 233h1.3v1.3h-1.3zM188 218h1.3v1.3h-1.3zM197 216h1.3v1.3h-1.3zM188 209h1.3v1.3h-1.3zM192 212h1.3v1.3h-1.3zM186 228h1.3v1.3h-1.3zM181 216h1.3v1.3h-1.3zM193 216h1.3v1.3h-1.3zM183 218h1.3v1.3h-1.3zM188 215h1.3v1.3h-1.3zM197 227h1.3v1.3h-1.3zM196 210h1.3v1.3h-1.3zM193 215h1.3v1.3h-1.3zM200 218h1.3v1.3h-1.3zM185 213h1.3v1.3h-1.3zM185 211h1.3v1.3h-1.3zM198 220h1.3v1.3h-1.3zM185 222h1.3v1.3h-1.3zM198 216h1.3v1.3h-1.3zM198 226h1.3v1.3h-1.3zM198 227h1.3v1.3h-1.3zM195 209h1.3v1.3h-1.3zM190 213h1.3v1.3h-1.3zM199 222h1.3v1.3h-1.3zM193 224h1.3v1.3h-1.3zM180 214h1.3v1.3h-1.3zM186 220h1.3v1.3h-1.3zM188 220h1.3v1.3h-1.3zM196 215h1.3v1.3h-1.3zM199 218h1.3v1.3h-1.3zM195 227h1.3v1.3h-1.3zM199 219h1.3v1.3h-1.3zM185 228h1.3v1.3h-1.3zM188 226h1.3v1.3h-1.3zM192 228h1.3v1.3h-1.3zM184 220h1.3v1.3h-1.3zM196 218h1.3v1.3h-1.3zM196 209h1.3v1.3h-1.3zM197 215h1.3v1.3h-1.3zM195 220h1.3v1.3h-1.3zM193 228h1.3v1.3h-1.3zM185 227h1.3v1.3h-1.3zM201 219h1.3v1.3h-1.3zM191 209h1.3v1.3h-1.3zM196 235h1.3v1.3h-1.3zM195 226h1.3v1.3h-1.3zM195 213h1.3v1.3h-1.3zM198 211h1.3v1.3h-1.3zM196 221h1.3v1.3h-1.3zM186 219h1.3v1.3h-1.3zM183 210h1.3v1.3h-1.3zM194 231h1.3v1.3h-1.3zM196 217h1.3v1.3h-1.3zM190 229h1.3v1.3h-1.3zM186 221h1.3v1.3h-1.3zM195 222h1.3v1.3h-1.3zM196 228h1.3v1.3h-1.3zM181 234h1.3v1.3h-1.3zM198 224h1.3v1.3h-1.3zM193 212h1.3v1.3h-1.3zM195 214h1.3v1.3h-1.3zM180 235h1.3v1.3h-1.3zM200 228h1.3v1.3h-1.3zM192 211h1.3v1.3h-1.3zM184 219h1.3v1.3h-1.3zM191 230h1.3v1.3h-1.3zM186 217h1.3v1.3h-1.3zM200 214h1.3v1.3h-1.3zM186 211h1.3v1.3h-1.3zM199 233h1.3v1.3h-1.3zM195 216h1.3v1.3h-1.3zM196 220h1.3v1.3h-1.3zM184 216h1.3v1.3h-1.3zM185 218h1.3v1.3h-1.3zM196 229h1.3v1.3h-1.3zM199 209h1.3v1.3h-1.3zM199 215h1.3v1.3h-1.3zM200 212h1.3v1.3h-1.3zM192 210h1.3v1.3h-1.3zM183 211h1.3v1.3h-1.3zM198 213h1.3v1.3h-1.3zM196 222h1.3v1.3h-1.3zM189 213h1.3v1.3h-1.3zM191 213h1.3v1.3h-1.3zM188 212h1.3v1.3h-1.3zM191 211h1.3v1.3h-1.3zM200 222h1.3v1.3h-1.3zM201 223h1.3v1.3h-1.3zM199 217h1.3v1.3h-1.3zM195 235h1.3v1.3h-1.3zM186 226h1.3v1.3h-1.3zM200 221h1.3v1.3h-1.3zM185 231h1.3v1.3h-1.3zM198 223h1.3v1.3h-1.3zM195 221h1.3v1.3h-1.3zM184 223h1.3v1.3h-1.3zM191 227h1.3v1.3h-1.3zM190 228h1.3v1.3h-1.3zM188 224h1.3v1.3h-1.3zM186 223h1.3v1.3h-1.3zM186 212h1.3v1.3h-1.3zM200 220h1.3v1.3h-1.3zM191 215h1.3v1.3h-1.3zM191 214h1.3v1.3h-1.3zM192 208h1.3v1.3h-1.3zM192 232h1.3v1.3h-1.3zM188 219h1.3v1.3h-1.3zM193 211h1.3v1.3h-1.3zM195 211h1.3v1.3h-1.3zM189 215h1.3v1.3h-1.3zM193 229h1.3v1.3h-1.3zM193 231h1.3v1.3h-1.3zM193 227h1.3v1.3h-1.3zM194 211h1.3v1.3h-1.3zM184 211h1.3v1.3h-1.3zM182 221h1.3v1.3h-1.3zM185 215h1.3v1.3h-1.3zM185 212h1.3v1.3h-1.3zM192 222h1.3v1.3h-1.3zM197 219h1.3v1.3h-1.3zM192 227h1.3v1.3h-1.3zM196 211h1.3v1.3h-1.3zM189 224h1.3v1.3h-1.3zM187 226h1.3v1.3h-1.3zM184 226h1.3v1.3h-1.3zM197 223h1.3v1.3h-1.3zM191 210h1.3v1.3h-1.3zM185 224h1.3v1.3h-1.3zM189 232h1.3v1.3h-1.3zM192 215h1.3v1.3h-1.3zM194 227h1.3v1.3h-1.3zM194 224h1.3v1.3h-1.3zM196 212h1.3v1.3h-1.3zM182 225h1.3v1.3h-1.3zM187 223h1.3v1.3h-1.3zM192 209h1.3v1.3h-1.3zM199 216h1.3v1.3h-1.3zM186 225h1.3v1.3h-1.3zM198 215h1.3v1.3h-1.3zM186 222h1.3v1.3h-1.3zM194 213h1.3v1.3h-1.3zM197 228h1.3v1.3h-1.3zM191 212h1.3v1.3h-1.3zM194 220h1.3v1.3h-1.3zM191 224h1.3v1.3h-1.3zM190 231h1.3v1.3h-1.3zM187 221h1.3v1.3h-1.3zM181 222h1.3v1.3h-1.3zM186 227h1.3v1.3h-1.3zM192 220h1.3v1.3h-1.3zM192 231h1.3v1.3h-1.3zM187 229h1.3v1.3h-1.3zM192 216h1.3v1.3h-1.3zM191 216h1.3v1.3h-1.3zM198 212h1.3v1.3h-1.3zM188 228h1.3v1.3h-1.3zM199 214h1.3v1.3h-1.3zM186 215h1.3v1.3h-1.3zM190 209h1.3v1.3h-1.3zM195 223h1.3v1.3h-1.3zM188 229h1.3v1.3h-1.3zM192 223h1.3v1.3h-1.3zM194 229h1.3v1.3h-1.3zM182 214h1.3v1.3h-1.3zM188 216h1.3v1.3h-1.3zM190 220h1.3v1.3h-1.3zM184 212h1.3v1.3h-1.3zM197 229h1.3v1.3h-1.3zM185 221h1.3v1.3h-1.3zM200 224h1.3v1.3h-1.3zM192 230h1.3v1.3h-1.3zM187 217h1.3v1.3h-1.3zM185 216h1.3v1.3h-1.3zM187 210h1.3v1.3h-1.3zM201 210h1.3v1.3h-1.3zM181 218h1.3v1.3h-1.3zM195 228h1.3v1.3h-1.3zM194 217h1.3v1.3h-1.3zM185 225h1.3v1.3h-1.3zM194 222h1.3v1.3h-1.3zM200 213h1.3v1.3h-1.3zM194 228h1.3v1.3h-1.3zM183 226h1.3v1.3h-1.3zM193 230h1.3v1.3h-1.3zM195 217h1.3v1.3h-1.3zM184 210h1.3v1.3h-1.3zM182 227h1.3v1.3h-1.3zM197 210h1.3v1.3h-1.3zM189 230h1.3v1.3h-1.3zM197 213h1.3v1.3h-1.3zM199 227h1.3v1.3h-1.3zM187 209h1.3v1.3h-1.3zM198 208h1.3v1.3h-1.3zM183 220h1.3v1.3h-1.3zM199 225h1.3v1.3h-1.3zM185 210h1.3v1.3h-1.3zM185 217h1.3v1.3h-1.3zM198 235h1.3v1.3h-1.3zM194 209h1.3v1.3h-1.3zM187 215h1.3v1.3h-1.3zM180 219h1.3v1.3h-1.3zM189 227h1.3v1.3h-1.3zM196 230h1.3v1.3h-1.3zM198 225h1.3v1.3h-1.3zM200 225h1.3v1.3h-1.3zM182 219h1.3v1.3h-1.3zM195 224h1.3v1.3h-1.3zM201 211h1.3v1.3h-1.3zM183 214h1.3v1.3h-1.3zM197 224h1.3v1.3h-1.3zM198 219h1.3v1.3h-1.3zM188 231h1.3v1.3h-1.3zM181 219h1.3v1.3h-1.3zM183 231h1.3v1.3h-1.3zM190 215h1.3v1.3h-1.3zM189 225h1.3v1.3h-1.3zM191 228h1.3v1.3h-1.3zM192 224h1.3v1.3h-1.3zM200 209h1.3v1.3h-1.3zM197 211h1.3v1.3h-1.3zM185 234h1.3v1.3h-1.3zM194 232h1.3v1.3h-1.3zM195 210h1.3v1.3h-1.3zM197 212h1.3v1.3h-1.3zM187 230h1.3v1.3h-1.3zM186 210h1.3v1.3h-1.3zM193 223h1.3v1.3h-1.3zM183 228h1.3v1.3h-1.3zM187 208h1.3v1.3h-1.3zM189 228h1.3v1.3h-1.3zM198 221h1.3v1.3h-1.3zM188 210h1.3v1.3h-1.3zM182 211h1.3v1.3h-1.3zM196 227h1.3v1.3h-1.3zM190 222h1.3v1.3h-1.3zM201 221h1.3v1.3h-1.3zM184 215h1.3v1.3h-1.3zM184 234h1.3v1.3h-1.3zM180 227h1.3v1.3h-1.3zM199 224h1.3v1.3h-1.3zM197 231h1.3v1.3h-1.3zM183 224h1.3v1.3h-1.3zM181 209h1.3v1.3h-1.3zM185 209h1.3v1.3h-1.3zM196 232h1.3v1.3h-1.3zM197 225h1.3v1.3h-1.3zM189 231h1.3v1.3h-1.3zM199 210h1.3v1.3h-1.3zM198 209h1.3v1.3h-1.3zM192 207h1.3v1.3h-1.3zM199 212h1.3v1.3h-1.3zM199 208h1.3v1.3h-1.3zM202 209h1.3v1.3h-1.3zM196 207h1.3v1.3h-1.3zM196 208h1.3v1.3h-1.3zM194 207h1.3v1.3h-1.3zM200 210h1.3v1.3h-1.3zM190 246h1.3v1.3h-1.3zM191 234h1.3v1.3h-1.3zM187 244h1.3v1.3h-1.3zM197 238h1.3v1.3h-1.3zM191 232h1.3v1.3h-1.3zM202 234h1.3v1.3h-1.3zM188 232h1.3v1.3h-1.3zM171 230h1.3v1.3h-1.3zM180 241h1.3v1.3h-1.3zM179 229h1.3v1.3h-1.3zM195 240h1.3v1.3h-1.3zM188 235h1.3v1.3h-1.3zM186 234h1.3v1.3h-1.3zM180 216h1.3v1.3h-1.3zM182 240h1.3v1.3h-1.3zM196 225h1.3v1.3h-1.3zM200 234h1.3v1.3h-1.3zM184 237h1.3v1.3h-1.3zM176 232h1.3v1.3h-1.3zM184 242h1.3v1.3h-1.3zM197 242h1.3v1.3h-1.3zM183 235h1.3v1.3h-1.3zM188 243h1.3v1.3h-1.3zM177 236h1.3v1.3h-1.3zM182 241h1.3v1.3h-1.3zM187 239h1.3v1.3h-1.3zM179 224h1.3v1.3h-1.3zM179 240h1.3v1.3h-1.3zM198 232h1.3v1.3h-1.3zM179 228h1.3v1.3h-1.3zM182 243h1.3v1.3h-1.3zM190 234h1.3v1.3h-1.3zM181 226h1.3v1.3h-1.3zM182 226h1.3v1.3h-1.3zM192 245h1.3v1.3h-1.3zM173 229h1.3v1.3h-1.3zM186 229h1.3v1.3h-1.3zM189 229h1.3v1.3h-1.3zM179 222h1.3v1.3h-1.3zM179 231h1.3v1.3h-1.3zM182 220h1.3v1.3h-1.3zM189 234h1.3v1.3h-1.3zM173 245h1.3v1.3h-1.3zM183 249h1.3v1.3h-1.3zM187 233h1.3v1.3h-1.3zM187 235h1.3v1.3h-1.3zM191 240h1.3v1.3h-1.3zM196 233h1.3v1.3h-1.3zM186 231h1.3v1.3h-1.3zM184 230h1.3v1.3h-1.3zM181 243h1.3v1.3h-1.3zM198 233h1.3v1.3h-1.3zM179 214h1.3v1.3h-1.3zM201 218h1.3v1.3h-1.3zM173 226h1.3v1.3h-1.3zM190 247h1.3v1.3h-1.3zM180 229h1.3v1.3h-1.3zM184 247h1.3v1.3h-1.3zM182 233h1.3v1.3h-1.3zM175 238h1.3v1.3h-1.3zM200 226h1.3v1.3h-1.3zM170 243h1.3v1.3h-1.3zM186 240h1.3v1.3h-1.3zM184 243h1.3v1.3h-1.3zM180 245h1.3v1.3h-1.3zM187 234h1.3v1.3h-1.3zM191 239h1.3v1.3h-1.3zM192 246h1.3v1.3h-1.3zM198 229h1.3v1.3h-1.3zM176 213h1.3v1.3h-1.3zM190 236h1.3v1.3h-1.3zM191 233h1.3v1.3h-1.3zM181 224h1.3v1.3h-1.3zM171 221h1.3v1.3h-1.3zM173 233h1.3v1.3h-1.3zM188 238h1.3v1.3h-1.3zM190 226h1.3v1.3h-1.3zM180 230h1.3v1.3h-1.3zM195 245h1.3v1.3h-1.3zM170 228h1.3v1.3h-1.3zM190 235h1.3v1.3h-1.3zM180 236h1.3v1.3h-1.3zM175 227h1.3v1.3h-1.3zM203 230h1.3v1.3h-1.3zM178 229h1.3v1.3h-1.3zM190 241h1.3v1.3h-1.3zM180 215h1.3v1.3h-1.3zM178 230h1.3v1.3h-1.3zM189 235h1.3v1.3h-1.3zM171 227h1.3v1.3h-1.3zM179 218h1.3v1.3h-1.3zM185 240h1.3v1.3h-1.3zM189 243h1.3v1.3h-1.3zM176 224h1.3v1.3h-1.3zM199 232h1.3v1.3h-1.3zM193 236h1.3v1.3h-1.3zM188 236h1.3v1.3h-1.3zM186 251h1.3v1.3h-1.3zM187 241h1.3v1.3h-1.3zM186 235h1.3v1.3h-1.3zM183 225h1.3v1.3h-1.3zM176 234h1.3v1.3h-1.3zM182 229h1.3v1.3h-1.3zM176 230h1.3v1.3h-1.3zM183 222h1.3v1.3h-1.3zM182 231h1.3v1.3h-1.3zM181 247h1.3v1.3h-1.3zM177 220h1.3v1.3h-1.3zM185 233h1.3v1.3h-1.3zM188 234h1.3v1.3h-1.3zM182 234h1.3v1.3h-1.3zM182 238h1.3v1.3h-1.3zM192 235h1.3v1.3h-1.3zM185 230h1.3v1.3h-1.3zM180 243h1.3v1.3h-1.3zM180 248h1.3v1.3h-1.3zM176 244h1.3v1.3h-1.3zM185 243h1.3v1.3h-1.3zM192 238h1.3v1.3h-1.3zM183 227h1.3v1.3h-1.3zM181 227h1.3v1.3h-1.3zM187 253h1.3v1.3h-1.3zM183 213h1.3v1.3h-1.3zM199 235h1.3v1.3h-1.3zM195 234h1.3v1.3h-1.3zM182 230h1.3v1.3h-1.3zM180 239h1.3v1.3h-1.3zM189 237h1.3v1.3h-1.3zM201 236h1.3v1.3h-1.3zM182 235h1.3v1.3h-1.3zM200 242h1.3v1.3h-1.3zM189 239h1.3v1.3h-1.3zM179 238h1.3v1.3h-1.3zM179 234h1.3v1.3h-1.3zM176 239h1.3v1.3h-1.3zM179 237h1.3v1.3h-1.3zM175 226h1.3v1.3h-1.3zM179 230h1.3v1.3h-1.3zM182 250h1.3v1.3h-1.3zM175 236h1.3v1.3h-1.3zM174 235h1.3v1.3h-1.3zM184 233h1.3v1.3h-1.3zM197 226h1.3v1.3h-1.3zM190 232h1.3v1.3h-1.3zM176 245h1.3v1.3h-1.3zM196 237h1.3v1.3h-1.3zM178 226h1.3v1.3h-1.3zM179 233h1.3v1.3h-1.3zM189 233h1.3v1.3h-1.3zM183 241h1.3v1.3h-1.3zM190 240h1.3v1.3h-1.3zM201 233h1.3v1.3h-1.3zM171 243h1.3v1.3h-1.3zM184 245h1.3v1.3h-1.3zM173 231h1.3v1.3h-1.3zM178 222h1.3v1.3h-1.3zM177 231h1.3v1.3h-1.3zM194 239h1.3v1.3h-1.3zM182 232h1.3v1.3h-1.3zM186 249h1.3v1.3h-1.3zM174 229h1.3v1.3h-1.3zM197 248h1.3v1.3h-1.3zM197 236h1.3v1.3h-1.3zM181 238h1.3v1.3h-1.3zM180 213h1.3v1.3h-1.3zM179 215h1.3v1.3h-1.3zM177 240h1.3v1.3h-1.3zM197 241h1.3v1.3h-1.3zM181 229h1.3v1.3h-1.3zM186 238h1.3v1.3h-1.3zM199 236h1.3v1.3h-1.3zM185 232h1.3v1.3h-1.3zM201 228h1.3v1.3h-1.3zM180 234h1.3v1.3h-1.3zM202 230h1.3v1.3h-1.3zM186 246h1.3v1.3h-1.3zM178 244h1.3v1.3h-1.3zM179 227h1.3v1.3h-1.3zM194 235h1.3v1.3h-1.3zM184 238h1.3v1.3h-1.3zM181 237h1.3v1.3h-1.3zM189 240h1.3v1.3h-1.3zM176 238h1.3v1.3h-1.3zM177 222h1.3v1.3h-1.3zM173 248h1.3v1.3h-1.3zM182 239h1.3v1.3h-1.3zM181 230h1.3v1.3h-1.3zM195 231h1.3v1.3h-1.3zM178 238h1.3v1.3h-1.3zM179 225h1.3v1.3h-1.3zM189 241h1.3v1.3h-1.3zM183 244h1.3v1.3h-1.3zM176 222h1.3v1.3h-1.3zM195 233h1.3v1.3h-1.3zM185 251h1.3v1.3h-1.3zM178 225h1.3v1.3h-1.3zM192 239h1.3v1.3h-1.3zM199 230h1.3v1.3h-1.3zM189 236h1.3v1.3h-1.3zM184 229h1.3v1.3h-1.3zM195 241h1.3v1.3h-1.3zM191 229h1.3v1.3h-1.3zM179 221h1.3v1.3h-1.3zM184 232h1.3v1.3h-1.3zM161 226h1.3v1.3h-1.3zM158 230h1.3v1.3h-1.3zM161 228h1.3v1.3h-1.3zM162 222h1.3v1.3h-1.3zM151 229h1.3v1.3h-1.3zM163 224h1.3v1.3h-1.3zM156 241h1.3v1.3h-1.3zM153 224h1.3v1.3h-1.3zM162 217h1.3v1.3h-1.3zM160 238h1.3v1.3h-1.3zM167 230h1.3v1.3h-1.3zM164 226h1.3v1.3h-1.3zM167 224h1.3v1.3h-1.3zM156 226h1.3v1.3h-1.3zM167 228h1.3v1.3h-1.3zM165 211h1.3v1.3h-1.3zM153 227h1.3v1.3h-1.3zM152 231h1.3v1.3h-1.3zM155 232h1.3v1.3h-1.3zM162 221h1.3v1.3h-1.3zM148 221h1.3v1.3h-1.3zM158 233h1.3v1.3h-1.3zM147 233h1.3v1.3h-1.3zM164 225h1.3v1.3h-1.3zM150 229h1.3v1.3h-1.3zM163 231h1.3v1.3h-1.3zM163 236h1.3v1.3h-1.3zM149 218h1.3v1.3h-1.3zM156 221h1.3v1.3h-1.3zM165 223h1.3v1.3h-1.3zM166 223h1.3v1.3h-1.3zM164 231h1.3v1.3h-1.3zM151 228h1.3v1.3h-1.3zM165 227h1.3v1.3h-1.3zM153 226h1.3v1.3h-1.3zM153 230h1.3v1.3h-1.3zM153 232h1.3v1.3h-1.3zM163 232h1.3v1.3h-1.3zM158 215h1.3v1.3h-1.3zM165 238h1.3v1.3h-1.3zM162 235h1.3v1.3h-1.3zM148 232h1.3v1.3h-1.3zM158 225h1.3v1.3h-1.3zM160 228h1.3v1.3h-1.3zM160 220h1.3v1.3h-1.3zM163 223h1.3v1.3h-1.3zM165 233h1.3v1.3h-1.3zM148 228h1.3v1.3h-1.3zM166 222h1.3v1.3h-1.3zM168 211h1.3v1.3h-1.3zM145 216h1.3v1.3h-1.3zM159 225h1.3v1.3h-1.3zM165 222h1.3v1.3h-1.3zM149 217h1.3v1.3h-1.3zM158 236h1.3v1.3h-1.3zM163 220h1.3v1.3h-1.3zM160 232h1.3v1.3h-1.3zM166 227h1.3v1.3h-1.3zM168 235h1.3v1.3h-1.3zM157 215h1.3v1.3h-1.3zM163 238h1.3v1.3h-1.3zM167 222h1.3v1.3h-1.3zM160 226h1.3v1.3h-1.3zM155 214h1.3v1.3h-1.3zM163 222h1.3v1.3h-1.3zM163 218h1.3v1.3h-1.3zM157 233h1.3v1.3h-1.3zM164 223h1.3v1.3h-1.3zM147 232h1.3v1.3h-1.3zM161 232h1.3v1.3h-1.3zM143 214h1.3v1.3h-1.3zM152 218h1.3v1.3h-1.3zM158 214h1.3v1.3h-1.3zM163 227h1.3v1.3h-1.3zM159 235h1.3v1.3h-1.3zM141 237h1.3v1.3h-1.3zM146 236h1.3v1.3h-1.3zM150 215h1.3v1.3h-1.3zM165 220h1.3v1.3h-1.3zM144 215h1.3v1.3h-1.3zM166 234h1.3v1.3h-1.3zM152 246h1.3v1.3h-1.3zM158 250h1.3v1.3h-1.3zM145 246h1.3v1.3h-1.3zM160 264h1.3v1.3h-1.3zM168 244h1.3v1.3h-1.3zM139 248h1.3v1.3h-1.3zM147 265h1.3v1.3h-1.3zM164 264h1.3v1.3h-1.3zM164 253h1.3v1.3h-1.3zM144 244h1.3v1.3h-1.3zM155 265h1.3v1.3h-1.3zM140 251h1.3v1.3h-1.3zM151 264h1.3v1.3h-1.3zM155 243h1.3v1.3h-1.3zM145 243h1.3v1.3h-1.3zM150 259h1.3v1.3h-1.3zM149 262h1.3v1.3h-1.3zM140 258h1.3v1.3h-1.3zM139 257h1.3v1.3h-1.3zM162 259h1.3v1.3h-1.3zM137 246h1.3v1.3h-1.3zM165 252h1.3v1.3h-1.3zM168 258h1.3v1.3h-1.3zM162 249h1.3v1.3h-1.3zM137 248h1.3v1.3h-1.3zM141 255h1.3v1.3h-1.3zM147 254h1.3v1.3h-1.3zM143 250h1.3v1.3h-1.3zM139 268h1.3v1.3h-1.3zM166 269h1.3v1.3h-1.3zM166 244h1.3v1.3h-1.3zM161 256h1.3v1.3h-1.3zM145 249h1.3v1.3h-1.3zM164 252h1.3v1.3h-1.3zM163 243h1.3v1.3h-1.3zM147 245h1.3v1.3h-1.3zM141 243h1.3v1.3h-1.3zM141 246h1.3v1.3h-1.3zM150 261h1.3v1.3h-1.3zM163 245h1.3v1.3h-1.3zM139 267h1.3v1.3h-1.3zM151 265h1.3v1.3h-1.3zM148 250h1.3v1.3h-1.3zM165 262h1.3v1.3h-1.3zM142 269h1.3v1.3h-1.3zM158 246h1.3v1.3h-1.3zM147 258h1.3v1.3h-1.3zM157 256h1.3v1.3h-1.3zM163 251h1.3v1.3h-1.3zM164 245h1.3v1.3h-1.3zM146 261h1.3v1.3h-1.3zM146 248h1.3v1.3h-1.3zM177 244h1.3v1.3h-1.3zM198 257h1.3v1.3h-1.3zM187 249h1.3v1.3h-1.3zM193 249h1.3v1.3h-1.3zM196 256h1.3v1.3h-1.3zM191 251h1.3v1.3h-1.3zM188 251h1.3v1.3h-1.3zM179 252h1.3v1.3h-1.3zM190 244h1.3v1.3h-1.3zM181 251h1.3v1.3h-1.3zM173 244h1.3v1.3h-1.3zM176 243h1.3v1.3h-1.3zM187 251h1.3v1.3h-1.3zM197 254h1.3v1.3h-1.3zM198 253h1.3v1.3h-1.3zM184 256h1.3v1.3h-1.3zM200 254h1.3v1.3h-1.3zM190 254h1.3v1.3h-1.3zM189 245h1.3v1.3h-1.3zM199 252h1.3v1.3h-1.3zM182 249h1.3v1.3h-1.3zM178 249h1.3v1.3h-1.3zM192 251h1.3v1.3h-1.3zM173 247h1.3v1.3h-1.3zM190 252h1.3v1.3h-1.3zM194 246h1.3v1.3h-1.3zM177 252h1.3v1.3h-1.3zM181 249h1.3v1.3h-1.3zM200 255h1.3v1.3h-1.3zM187 252h1.3v1.3h-1.3zM191 252h1.3v1.3h-1.3zM186 260h1.3v1.3h-1.3zM200 249h1.3v1.3h-1.3zM180 261h1.3v1.3h-1.3zM203 243h1.3v1.3h-1.3zM204 253h1.3v1.3h-1.3zM188 256h1.3v1.3h-1.3zM186 247h1.3v1.3h-1.3zM184 249h1.3v1.3h-1.3zM196 244h1.3v1.3h-1.3zM189 264h1.3v1.3h-1.3zM194 254h1.3v1.3h-1.3zM176 249h1.3v1.3h-1.3zM179 254h1.3v1.3h-1.3zM187 246h1.3v1.3h-1.3zM176 253h1.3v1.3h-1.3zM186 245h1.3v1.3h-1.3zM190 255h1.3v1.3h-1.3zM190 250h1.3v1.3h-1.3zM188 254h1.3v1.3h-1.3zM173 251h1.3v1.3h-1.3zM188 247h1.3v1.3h-1.3zM193 256h1.3v1.3h-1.3zM204 254h1.3v1.3h-1.3zM200 250h1.3v1.3h-1.3zM194 255h1.3v1.3h-1.3zM182 248h1.3v1.3h-1.3zM185 259h1.3v1.3h-1.3zM203 246h1.3v1.3h-1.3zM196 247h1.3v1.3h-1.3z" fill="#1a1a1a"/>
<path d="M357 209h1.3v1.3h-1.3zM367 222h1.3v1.3h-1.3zM362 234h1.3v1.3h-1.3zM350 226h1.3v1.3h-1.3zM358 234h1.3v1.3h-1.3zM356 240h1.3v1.3h-1.3zM353 220h1.3v1.3h-1.3zM349 234h1.3v1.3h-1.3zM357 218h1.3v1.3h-1.3zM353 230h1.3v1.3h-1.3zM361 218h1.3v1.3h-1.3zM362 242h1.3v1.3h-1.3zM352 232h1.3v1.3h-1.3zM360 225h1.3v1.3h-1.3zM357 220h1.3v1.3h-1.3zM353 232h1.3v1.3h-1.3zM342 237h1.3v1.3h-1.3zM360 231h1.3v1.3h-1.3zM356 230h1.3v1.3h-1.3zM340 220h1.3v1.3h-1.3zM350 225h1.3v1.3h-1.3zM358 218h1.3v1.3h-1.3zM351 227h1.3v1.3h-1.3zM345 230h1.3v1.3h-1.3zM360 222h1.3v1.3h-1.3zM357 216h1.3v1.3h-1.3zM342 219h1.3v1.3h-1.3zM353 221h1.3v1.3h-1.3zM346 209h1.3v1.3h-1.3zM366 220h1.3v1.3h-1.3zM351 215h1.3v1.3h-1.3zM362 221h1.3v1.3h-1.3zM364 229h1.3v1.3h-1.3zM360 236h1.3v1.3h-1.3zM354 224h1.3v1.3h-1.3zM361 229h1.3v1.3h-1.3zM353 225h1.3v1.3h-1.3zM351 231h1.3v1.3h-1.3zM363 225h1.3v1.3h-1.3zM353 240h1.3v1.3h-1.3zM352 211h1.3v1.3h-1.3zM366 230h1.3v1.3h-1.3zM346 232h1.3v1.3h-1.3zM347 213h1.3v1.3h-1.3zM354 221h1.3v1.3h-1.3zM346 222h1.3v1.3h-1.3zM347 226h1.3v1.3h-1.3zM355 232h1.3v1.3h-1.3zM351 213h1.3v1.3h-1.3zM345 223h1.3v1.3h-1.3zM367 233h1.3v1.3h-1.3zM350 234h1.3v1.3h-1.3zM346 234h1.3v1.3h-1.3zM360 223h1.3v1.3h-1.3zM358 215h1.3v1.3h-1.3zM355 235h1.3v1.3h-1.3zM356 216h1.3v1.3h-1.3zM364 210h1.3v1.3h-1.3zM349 228h1.3v1.3h-1.3zM345 239h1.3v1.3h-1.3zM364 220h1.3v1.3h-1.3zM344 229h1.3v1.3h-1.3zM360 228h1.3v1.3h-1.3zM358 212h1.3v1.3h-1.3zM355 238h1.3v1.3h-1.3zM366 221h1.3v1.3h-1.3zM352 238h1.3v1.3h-1.3zM352 227h1.3v1.3h-1.3zM365 218h1.3v1.3h-1.3zM354 222h1.3v1.3h-1.3zM364 231h1.3v1.3h-1.3zM346 227h1.3v1.3h-1.3zM344 218h1.3v1.3h-1.3zM345 213h1.3v1.3h-1.3zM350 216h1.3v1.3h-1.3zM359 232h1.3v1.3h-1.3zM353 215h1.3v1.3h-1.3zM340 232h1.3v1.3h-1.3zM360 234h1.3v1.3h-1.3zM353 214h1.3v1.3h-1.3zM351 230h1.3v1.3h-1.3zM349 219h1.3v1.3h-1.3zM344 215h1.3v1.3h-1.3zM362 229h1.3v1.3h-1.3zM346 215h1.3v1.3h-1.3zM346 224h1.3v1.3h-1.3zM338 214h1.3v1.3h-1.3zM359 233h1.3v1.3h-1.3zM346 218h1.3v1.3h-1.3zM362 222h1.3v1.3h-1.3zM357 235h1.3v1.3h-1.3zM362 220h1.3v1.3h-1.3zM354 225h1.3v1.3h-1.3zM344 216h1.3v1.3h-1.3zM363 211h1.3v1.3h-1.3zM363 228h1.3v1.3h-1.3zM354 230h1.3v1.3h-1.3zM359 236h1.3v1.3h-1.3zM352 223h1.3v1.3h-1.3zM353 242h1.3v1.3h-1.3zM363 217h1.3v1.3h-1.3zM352 219h1.3v1.3h-1.3zM355 227h1.3v1.3h-1.3zM363 229h1.3v1.3h-1.3zM350 224h1.3v1.3h-1.3zM351 226h1.3v1.3h-1.3zM366 222h1.3v1.3h-1.3zM367 229h1.3v1.3h-1.3zM365 230h1.3v1.3h-1.3zM364 226h1.3v1.3h-1.3zM349 231h1.3v1.3h-1.3zM339 223h1.3v1.3h-1.3zM364 214h1.3v1.3h-1.3zM367 217h1.3v1.3h-1.3zM367 236h1.3v1.3h-1.3zM357 217h1.3v1.3h-1.3zM351 232h1.3v1.3h-1.3zM356 242h1.3v1.3h-1.3zM353 228h1.3v1.3h-1.3zM358 226h1.3v1.3h-1.3zM349 239h1.3v1.3h-1.3zM350 232h1.3v1.3h-1.3zM348 229h1.3v1.3h-1.3zM354 216h1.3v1.3h-1.3zM350 231h1.3v1.3h-1.3zM342 222h1.3v1.3h-1.3zM353 218h1.3v1.3h-1.3zM357 219h1.3v1.3h-1.3zM349 242h1.3v1.3h-1.3zM361 236h1.3v1.3h-1.3zM356 234h1.3v1.3h-1.3zM362 236h1.3v1.3h-1.3zM357 225h1.3v1.3h-1.3zM356 231h1.3v1.3h-1.3zM351 236h1.3v1.3h-1.3zM367 241h1.3v1.3h-1.3zM359 217h1.3v1.3h-1.3zM367 224h1.3v1.3h-1.3zM351 235h1.3v1.3h-1.3zM360 218h1.3v1.3h-1.3zM354 233h1.3v1.3h-1.3zM354 220h1.3v1.3h-1.3zM365 232h1.3v1.3h-1.3zM355 223h1.3v1.3h-1.3zM362 223h1.3v1.3h-1.3zM348 219h1.3v1.3h-1.3zM354 227h1.3v1.3h-1.3zM363 231h1.3v1.3h-1.3zM354 226h1.3v1.3h-1.3zM358 240h1.3v1.3h-1.3zM358 222h1.3v1.3h-1.3zM359 223h1.3v1.3h-1.3zM356 228h1.3v1.3h-1.3zM352 226h1.3v1.3h-1.3zM348 214h1.3v1.3h-1.3zM366 223h1.3v1.3h-1.3zM355 224h1.3v1.3h-1.3zM356 226h1.3v1.3h-1.3zM356 218h1.3v1.3h-1.3zM363 219h1.3v1.3h-1.3zM364 208h1.3v1.3h-1.3zM347 234h1.3v1.3h-1.3zM354 219h1.3v1.3h-1.3zM359 216h1.3v1.3h-1.3zM352 220h1.3v1.3h-1.3zM360 233h1.3v1.3h-1.3zM349 240h1.3v1.3h-1.3zM355 220h1.3v1.3h-1.3zM366 225h1.3v1.3h-1.3zM337 233h1.3v1.3h-1.3zM353 223h1.3v1.3h-1.3zM365 225h1.3v1.3h-1.3zM349 230h1.3v1.3h-1.3zM351 237h1.3v1.3h-1.3zM363 226h1.3v1.3h-1.3zM353 234h1.3v1.3h-1.3zM354 231h1.3v1.3h-1.3zM348 226h1.3v1.3h-1.3zM359 218h1.3v1.3h-1.3zM352 221h1.3v1.3h-1.3zM361 219h1.3v1.3h-1.3zM359 239h1.3v1.3h-1.3zM358 211h1.3v1.3h-1.3zM353 236h1.3v1.3h-1.3zM360 229h1.3v1.3h-1.3zM353 226h1.3v1.3h-1.3zM359 211h1.3v1.3h-1.3zM349 218h1.3v1.3h-1.3zM354 223h1.3v1.3h-1.3zM354 218h1.3v1.3h-1.3zM361 228h1.3v1.3h-1.3zM342 226h1.3v1.3h-1.3zM347 241h1.3v1.3h-1.3zM352 222h1.3v1.3h-1.3zM356 224h1.3v1.3h-1.3zM355 240h1.3v1.3h-1.3zM357 233h1.3v1.3h-1.3zM365 217h1.3v1.3h-1.3zM363 218h1.3v1.3h-1.3zM360 224h1.3v1.3h-1.3zM357 234h1.3v1.3h-1.3zM365 231h1.3v1.3h-1.3zM365 239h1.3v1.3h-1.3zM346 221h1.3v1.3h-1.3zM348 227h1.3v1.3h-1.3zM367 232h1.3v1.3h-1.3zM347 223h1.3v1.3h-1.3zM364 221h1.3v1.3h-1.3zM355 228h1.3v1.3h-1.3zM341 233h1.3v1.3h-1.3zM358 231h1.3v1.3h-1.3zM351 228h1.3v1.3h-1.3zM356 227h1.3v1.3h-1.3zM350 220h1.3v1.3h-1.3zM367 240h1.3v1.3h-1.3zM351 223h1.3v1.3h-1.3zM348 222h1.3v1.3h-1.3zM337 220h1.3v1.3h-1.3zM360 213h1.3v1.3h-1.3zM360 237h1.3v1.3h-1.3zM347 230h1.3v1.3h-1.3zM367 230h1.3v1.3h-1.3zM366 231h1.3v1.3h-1.3zM346 228h1.3v1.3h-1.3zM366 226h1.3v1.3h-1.3zM339 238h1.3v1.3h-1.3zM348 218h1.3v1.3h-1.3zM360 217h1.3v1.3h-1.3zM358 217h1.3v1.3h-1.3zM361 217h1.3v1.3h-1.3zM360 232h1.3v1.3h-1.3zM343 215h1.3v1.3h-1.3zM346 212h1.3v1.3h-1.3zM350 217h1.3v1.3h-1.3zM344 227h1.3v1.3h-1.3zM360 214h1.3v1.3h-1.3zM362 233h1.3v1.3h-1.3zM361 224h1.3v1.3h-1.3zM352 225h1.3v1.3h-1.3zM359 226h1.3v1.3h-1.3zM343 221h1.3v1.3h-1.3zM358 235h1.3v1.3h-1.3zM366 235h1.3v1.3h-1.3zM359 221h1.3v1.3h-1.3zM359 235h1.3v1.3h-1.3zM345 241h1.3v1.3h-1.3zM363 222h1.3v1.3h-1.3zM347 229h1.3v1.3h-1.3zM339 227h1.3v1.3h-1.3zM365 228h1.3v1.3h-1.3zM362 230h1.3v1.3h-1.3zM361 227h1.3v1.3h-1.3zM349 223h1.3v1.3h-1.3zM349 258h1.3v1.3h-1.3zM363 253h1.3v1.3h-1.3zM343 246h1.3v1.3h-1.3zM348 259h1.3v1.3h-1.3zM352 250h1.3v1.3h-1.3zM343 256h1.3v1.3h-1.3zM350 261h1.3v1.3h-1.3zM348 261h1.3v1.3h-1.3zM359 251h1.3v1.3h-1.3zM357 250h1.3v1.3h-1.3zM343 249h1.3v1.3h-1.3zM342 254h1.3v1.3h-1.3zM350 254h1.3v1.3h-1.3zM351 245h1.3v1.3h-1.3zM350 259h1.3v1.3h-1.3zM336 252h1.3v1.3h-1.3zM355 251h1.3v1.3h-1.3zM345 246h1.3v1.3h-1.3zM347 248h1.3v1.3h-1.3zM349 244h1.3v1.3h-1.3zM354 248h1.3v1.3h-1.3zM339 246h1.3v1.3h-1.3zM346 256h1.3v1.3h-1.3zM353 248h1.3v1.3h-1.3zM350 252h1.3v1.3h-1.3zM366 247h1.3v1.3h-1.3zM353 255h1.3v1.3h-1.3zM342 252h1.3v1.3h-1.3zM351 248h1.3v1.3h-1.3zM354 257h1.3v1.3h-1.3zM359 249h1.3v1.3h-1.3zM341 252h1.3v1.3h-1.3zM357 251h1.3v1.3h-1.3zM355 252h1.3v1.3h-1.3zM356 258h1.3v1.3h-1.3zM348 252h1.3v1.3h-1.3zM349 248h1.3v1.3h-1.3zM355 261h1.3v1.3h-1.3zM363 258h1.3v1.3h-1.3zM342 260h1.3v1.3h-1.3zM344 250h1.3v1.3h-1.3zM364 244h1.3v1.3h-1.3zM356 252h1.3v1.3h-1.3zM348 245h1.3v1.3h-1.3zM358 258h1.3v1.3h-1.3zM338 247h1.3v1.3h-1.3zM347 243h1.3v1.3h-1.3zM341 251h1.3v1.3h-1.3zM345 254h1.3v1.3h-1.3zM340 245h1.3v1.3h-1.3zM362 258h1.3v1.3h-1.3zM353 243h1.3v1.3h-1.3zM358 250h1.3v1.3h-1.3zM336 253h1.3v1.3h-1.3zM355 249h1.3v1.3h-1.3zM347 253h1.3v1.3h-1.3zM354 250h1.3v1.3h-1.3zM346 245h1.3v1.3h-1.3zM352 249h1.3v1.3h-1.3zM348 256h1.3v1.3h-1.3zM353 256h1.3v1.3h-1.3zM337 254h1.3v1.3h-1.3zM343 258h1.3v1.3h-1.3zM356 246h1.3v1.3h-1.3zM311 210h1.3v1.3h-1.3zM319 220h1.3v1.3h-1.3zM313 220h1.3v1.3h-1.3zM314 211h1.3v1.3h-1.3zM314 213h1.3v1.3h-1.3zM310 216h1.3v1.3h-1.3zM306 210h1.3v1.3h-1.3zM326 214h1.3v1.3h-1.3zM305 210h1.3v1.3h-1.3zM321 221h1.3v1.3h-1.3zM315 233h1.3v1.3h-1.3zM323 231h1.3v1.3h-1.3zM321 229h1.3v1.3h-1.3zM318 224h1.3v1.3h-1.3zM327 215h1.3v1.3h-1.3zM321 211h1.3v1.3h-1.3zM331 215h1.3v1.3h-1.3zM321 240h1.3v1.3h-1.3zM330 236h1.3v1.3h-1.3zM330 228h1.3v1.3h-1.3zM325 229h1.3v1.3h-1.3zM314 233h1.3v1.3h-1.3zM319 236h1.3v1.3h-1.3zM307 217h1.3v1.3h-1.3zM326 235h1.3v1.3h-1.3zM323 230h1.3v1.3h-1.3zM328 218h1.3v1.3h-1.3zM307 219h1.3v1.3h-1.3zM308 215h1.3v1.3h-1.3zM323 227h1.3v1.3h-1.3zM326 240h1.3v1.3h-1.3zM307 235h1.3v1.3h-1.3zM309 258h1.3v1.3h-1.3zM308 253h1.3v1.3h-1.3zM313 261h1.3v1.3h-1.3zM309 263h1.3v1.3h-1.3zM309 250h1.3v1.3h-1.3zM326 249h1.3v1.3h-1.3zM314 260h1.3v1.3h-1.3zM321 254h1.3v1.3h-1.3zM314 266h1.3v1.3h-1.3zM333 243h1.3v1.3h-1.3zM322 258h1.3v1.3h-1.3zM309 252h1.3v1.3h-1.3zM327 248h1.3v1.3h-1.3zM313 267h1.3v1.3h-1.3zM318 249h1.3v1.3h-1.3zM313 265h1.3v1.3h-1.3zM319 266h1.3v1.3h-1.3zM313 270h1.3v1.3h-1.3zM314 246h1.3v1.3h-1.3zM309 247h1.3v1.3h-1.3zM332 245h1.3v1.3h-1.3zM311 251h1.3v1.3h-1.3zM313 268h1.3v1.3h-1.3zM316 261h1.3v1.3h-1.3zM308 247h1.3v1.3h-1.3zM311 245h1.3v1.3h-1.3zM316 263h1.3v1.3h-1.3zM321 260h1.3v1.3h-1.3z" fill="#1a1a1a"/>
<line x1="246.70" y1="30.00" x2="246.70" y2="63.00" stroke="#000" stroke-width="1.1"/>
<line x1="230.80" y1="46.40" x2="262.00" y2="46.40" stroke="#000" stroke-width="1.3"/>
<text x="237.30" y="43.50" font-family='"Liberation Serif", serif' font-size="14" text-anchor="middle" font-weight="normal" stroke="#000" stroke-width="0.15" >3</text>
<text x="256.30" y="43.50" font-family='"Liberation Serif", serif' font-size="14" text-anchor="middle" font-weight="normal" stroke="#000" stroke-width="0.15" >31</text>
<text x="237.20" y="60.00" font-family='"Liberation Serif", serif' font-size="14" text-anchor="middle" font-weight="normal" stroke="#000" stroke-width="0.15" >54</text>
<text x="257.00" y="60.00" font-family='"Liberation Serif", serif' font-size="14" text-anchor="middle" font-weight="normal" stroke="#000" stroke-width="0.15" >12</text>
<line x1="413.80" y1="30.00" x2="413.80" y2="63.00" stroke="#000" stroke-width="1.1"/>
<line x1="398.00" y1="46.50" x2="430.00" y2="46.50" stroke="#000" stroke-width="1.3"/>
<text x="404.50" y="43.20" font-family='"Liberation Serif", serif' font-size="14" text-anchor="middle" font-weight="normal" stroke="#000" stroke-width="0.15" >1</text>
<text x="421.80" y="43.20" font-family='"Liberation Serif", serif' font-size="14" text-anchor="middle" font-weight="normal" stroke="#000" stroke-width="0.15" >6</text>
<text x="404.50" y="60.00" font-family='"Liberation Serif", serif' font-size="14" text-anchor="middle" font-weight="normal" stroke="#000" stroke-width="0.15" >89</text>
<text x="421.80" y="60.00" font-family='"Liberation Serif", serif' font-size="14" text-anchor="middle" font-weight="normal" stroke="#000" stroke-width="0.15" >4</text>
<line x1="247.10" y1="183.50" x2="247.10" y2="215.50" stroke="#000" stroke-width="1.1"/>
<line x1="231.00" y1="199.50" x2="263.00" y2="199.50" stroke="#000" stroke-width="1.3"/>
<text x="238.30" y="196.00" font-family='"Liberation Serif", serif' font-size="14" text-anchor="middle" font-weight="normal" stroke="#000" stroke-width="0.15" >6</text>
<text x="256.80" y="196.00" font-family='"Liberation Serif", serif' font-size="14" text-anchor="middle" font-weight="normal" stroke="#000" stroke-width="0.15" >80</text>
<text x="238.00" y="212.00" font-family='"Liberation Serif", serif' font-size="14" text-anchor="middle" font-weight="normal" stroke="#000" stroke-width="0.15" >7</text>
<text x="256.00" y="212.00" font-family='"Liberation Serif", serif' font-size="14" text-anchor="middle" font-weight="normal" stroke="#000" stroke-width="0.15" >7</text>
<line x1="413.50" y1="181.50" x2="413.50" y2="213.00" stroke="#000" stroke-width="1.1"/>
<line x1="398.00" y1="197.50" x2="429.00" y2="197.50" stroke="#000" stroke-width="1.3"/>
<text x="404.00" y="193.50" font-family='"Liberation Serif", serif' font-size="14" text-anchor="middle" font-weight="normal" stroke="#000" stroke-width="0.15" >9</text>
<text x="421.80" y="193.50" font-family='"Liberation Serif", serif' font-size="14" text-anchor="middle" font-weight="normal" stroke="#000" stroke-width="0.15" >61</text>
<text x="405.00" y="210.00" font-family='"Liberation Serif", serif' font-size="14" text-anchor="middle" font-weight="normal" stroke="#000" stroke-width="0.15" >10</text>
<text x="422.00" y="210.00" font-family='"Liberation Serif", serif' font-size="14" text-anchor="middle" font-weight="normal" stroke="#000" stroke-width="0.15" >19</text>
<text x="-1.00" y="349.60" font-family='"Liberation Sans", sans-serif' font-size="24.5" text-anchor="start" font-weight="bold" >B</text>
<line x1="66.50" y1="645.40" x2="70.00" y2="645.40" stroke="#555" stroke-width="0.8"/>
<text x="61.40" y="649.10" font-family='"Liberation Serif", serif' font-size="12" text-anchor="end" font-weight="normal" letter-spacing="0.6">0</text>
<line x1="66.50" y1="606.91" x2="70.00" y2="606.91" stroke="#555" stroke-width="0.8"/>
<text x="61.40" y="610.61" font-family='"Liberation Serif", serif' font-size="12" text-anchor="end" font-weight="normal" letter-spacing="0.6">10000</text>
<line x1="66.50" y1="568.42" x2="70.00" y2="568.42" stroke="#555" stroke-width="0.8"/>
<text x="61.40" y="572.12" font-family='"Liberation Serif", serif' font-size="12" text-anchor="end" font-weight="normal" letter-spacing="0.6">20000</text>
<line x1="66.50" y1="529.94" x2="70.00" y2="529.94" stroke="#555" stroke-width="0.8"/>
<text x="61.40" y="533.64" font-family='"Liberation Serif", serif' font-size="12" text-anchor="end" font-weight="normal" letter-spacing="0.6">30000</text>
<line x1="66.50" y1="491.45" x2="70.00" y2="491.45" stroke="#555" stroke-width="0.8"/>
<text x="61.40" y="495.15" font-family='"Liberation Serif", serif' font-size="12" text-anchor="end" font-weight="normal" letter-spacing="0.6">40000</text>
<line x1="66.50" y1="452.96" x2="70.00" y2="452.96" stroke="#555" stroke-width="0.8"/>
<text x="61.40" y="456.66" font-family='"Liberation Serif", serif' font-size="12" text-anchor="end" font-weight="normal" letter-spacing="0.6">50000</text>
<line x1="66.50" y1="414.47" x2="70.00" y2="414.47" stroke="#555" stroke-width="0.8"/>
<text x="61.40" y="418.17" font-family='"Liberation Serif", serif' font-size="12" text-anchor="end" font-weight="normal" letter-spacing="0.6">60000</text>
<line x1="66.50" y1="375.99" x2="70.00" y2="375.99" stroke="#555" stroke-width="0.8"/>
<text x="61.40" y="379.69" font-family='"Liberation Serif", serif' font-size="12" text-anchor="end" font-weight="normal" letter-spacing="0.6">70000</text>
<line x1="66.50" y1="337.50" x2="70.00" y2="337.50" stroke="#555" stroke-width="0.8"/>
<text x="61.40" y="341.20" font-family='"Liberation Serif", serif' font-size="12" text-anchor="end" font-weight="normal" letter-spacing="0.6">80000</text>
<text transform="translate(14.9,484.5) rotate(-90)" font-family='"Liberation Serif", serif' font-size="17" font-weight="bold" text-anchor="middle">Absolute cell number</text>
<rect x="85.5" y="628.3" width="22.0" height="17.100000000000023" fill="#000"/>
<rect x="108.1" y="612.6" width="18.8" height="32.799999999999976" fill="#dadada" stroke="#000" stroke-width="1.2"/>
<rect x="159.5" y="642" width="21.5" height="3.3999999999999773" fill="#000"/>
<rect x="234" y="635.5" width="22" height="9.899999999999977" fill="#000"/>
<rect x="256.6" y="644.6" width="19.3" height="0.7999999999999773" fill="#dadada" stroke="#000" stroke-width="1.2"/>
<rect x="309" y="622" width="22" height="23.399999999999977" fill="#000"/>
<rect x="331.6" y="638.6" width="18.3" height="6.799999999999978" fill="#dadada" stroke="#000" stroke-width="1.2"/>
<rect x="383.5" y="622.3" width="22.0" height="23.100000000000023" fill="#000"/>
<rect x="406.1" y="630.1" width="18.8" height="15.299999999999978" fill="#dadada" stroke="#000" stroke-width="1.2"/>
<rect x="458" y="372" width="22" height="273.4" fill="#000"/>
<rect x="480.6" y="595.6" width="19.3" height="49.799999999999976" fill="#dadada" stroke="#000" stroke-width="1.2"/>
<line x1="71.00" y1="336.80" x2="71.00" y2="645.40" stroke="#000" stroke-width="2.0"/>
<line x1="70.00" y1="337.50" x2="518.00" y2="337.50" stroke="#000" stroke-width="1.6"/>
<line x1="517.00" y1="336.80" x2="517.00" y2="645.40" stroke="#000" stroke-width="2.0"/>
<line x1="294.00" y1="337.50" x2="294.00" y2="648.40" stroke="#000" stroke-width="1.6"/>
<line x1="70.00" y1="645.40" x2="518.00" y2="645.40" stroke="#000" stroke-width="1.4"/>
<line x1="66.50" y1="645.40" x2="70.00" y2="645.40" stroke="#555" stroke-width="0.8"/>
<line x1="144.00" y1="645.40" x2="144.00" y2="648.40" stroke="#555" stroke-width="0.8"/>
<line x1="218.50" y1="645.40" x2="218.50" y2="648.40" stroke="#555" stroke-width="0.8"/>
<line x1="368.50" y1="645.40" x2="368.50" y2="648.40" stroke="#555" stroke-width="0.8"/>
<line x1="443.00" y1="645.40" x2="443.00" y2="648.40" stroke="#555" stroke-width="0.8"/>
<text x="166.30" y="352.70" font-family='"Liberation Sans", sans-serif' font-size="13" text-anchor="start" font-weight="normal" letter-spacing="0.2">7 days</text>
<text x="380.00" y="352.70" font-family='"Liberation Sans", sans-serif' font-size="13" text-anchor="start" font-weight="normal" letter-spacing="0.35">13 days</text>
<rect x="335.2" y="400.4" width="7" height="6.4" fill="#000"/>
<rect x="335.9" y="416.6" width="5.8" height="5.6" fill="#dadada" stroke="#000" stroke-width="1.1"/>
<text x="344.00" y="406.30" font-family='"Liberation Serif", serif' font-size="12" text-anchor="start" font-weight="normal" stroke="#000" stroke-width="0.15" >GFP</text>
<text x="344.00" y="422.50" font-family='"Liberation Serif", serif' font-size="12" text-anchor="start" font-weight="normal" stroke="#000" stroke-width="0.15" >Spi-B</text>
<text x="104.95" y="664.00" font-family='"Liberation Serif", serif' font-size="13" text-anchor="middle" font-weight="normal" stroke="#000" stroke-width="0.15" >10-19-</text>
<text x="178.50" y="664.00" font-family='"Liberation Serif", serif' font-size="13" text-anchor="middle" font-weight="normal" stroke="#000" stroke-width="0.15" >10+19-</text>
<text x="253.35" y="664.00" font-family='"Liberation Serif", serif' font-size="13" text-anchor="middle" font-weight="normal" stroke="#000" stroke-width="0.15" >10+19+</text>
<text x="328.35" y="664.00" font-family='"Liberation Serif", serif' font-size="13" text-anchor="middle" font-weight="normal" stroke="#000" stroke-width="0.15" >10-19-</text>
<text x="402.90" y="664.00" font-family='"Liberation Serif", serif' font-size="13" text-anchor="middle" font-weight="normal" stroke="#000" stroke-width="0.15" >10+19-</text>
<text x="478.05" y="664.00" font-family='"Liberation Serif", serif' font-size="13" text-anchor="middle" font-weight="normal" stroke="#000" stroke-width="0.15" >10+19+</text>
</svg>
</body></html>
